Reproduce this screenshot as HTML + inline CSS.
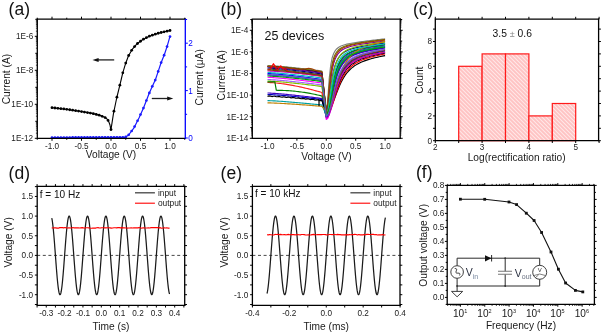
<!DOCTYPE html>
<html><head><meta charset="utf-8"><style>
html,body{margin:0;padding:0;background:#fff;}
svg{display:block;font-family:"Liberation Sans",sans-serif;will-change:transform;}
</style></head><body>
<svg width="602" height="333" viewBox="0 0 602 333">
<rect width="602" height="333" fill="#fff"/>
<text x="8.6" y="14.7" font-size="17.5" text-anchor="start" fill="#111" >(a)</text>
<text x="220.6" y="14.6" font-size="17.5" text-anchor="start" fill="#111" >(b)</text>
<text x="413" y="14.6" font-size="17.5" text-anchor="start" fill="#111" >(c)</text>
<text x="8.6" y="178.7" font-size="17.5" text-anchor="start" fill="#111" >(d)</text>
<text x="220.6" y="178.7" font-size="17.5" text-anchor="start" fill="#111" >(e)</text>
<text x="416" y="178.4" font-size="17.5" text-anchor="start" fill="#111" >(f)</text>
<polyline points="51.3,107.6 66,109.2 81,111.5 92,113.4 99,115.1 104,117 106.3,118.2 108.5,121 110,125 110.9,130.2 113.5,113.3 116.7,98 119.8,85.4 121.2,79.5 122.7,73.2 125.7,63.2 128.4,56 132,49.7 136.5,44.3 142.8,39.5 150,35.9 159,33 169.9,30.5" fill="none" stroke="#000" stroke-width="1.1" stroke-linejoin="round" />
<circle cx="52" cy="107.68" r="1.4" fill="#000"/>
<circle cx="54.95" cy="108" r="1.4" fill="#000"/>
<circle cx="57.9" cy="108.32" r="1.4" fill="#000"/>
<circle cx="60.85" cy="108.64" r="1.4" fill="#000"/>
<circle cx="63.8" cy="108.96" r="1.4" fill="#000"/>
<circle cx="66.75" cy="109.31" r="1.4" fill="#000"/>
<circle cx="69.7" cy="109.77" r="1.4" fill="#000"/>
<circle cx="72.65" cy="110.22" r="1.4" fill="#000"/>
<circle cx="75.6" cy="110.67" r="1.4" fill="#000"/>
<circle cx="78.55" cy="111.12" r="1.4" fill="#000"/>
<circle cx="81.5" cy="111.59" r="1.4" fill="#000"/>
<circle cx="84.45" cy="112.1" r="1.4" fill="#000"/>
<circle cx="87.4" cy="112.61" r="1.4" fill="#000"/>
<circle cx="90.35" cy="113.12" r="1.4" fill="#000"/>
<circle cx="93.3" cy="113.72" r="1.4" fill="#000"/>
<circle cx="96.25" cy="114.43" r="1.4" fill="#000"/>
<circle cx="99.2" cy="115.18" r="1.4" fill="#000"/>
<circle cx="102.15" cy="116.3" r="1.4" fill="#000"/>
<circle cx="105.1" cy="117.57" r="1.4" fill="#000"/>
<circle cx="108.05" cy="120.43" r="1.4" fill="#000"/>
<circle cx="111" cy="129.55" r="1.4" fill="#000"/>
<circle cx="113.95" cy="111.15" r="1.4" fill="#000"/>
<circle cx="116.9" cy="97.19" r="1.4" fill="#000"/>
<circle cx="119.85" cy="85.19" r="1.4" fill="#000"/>
<circle cx="122.8" cy="72.87" r="1.4" fill="#000"/>
<circle cx="125.75" cy="63.07" r="1.4" fill="#000"/>
<circle cx="128.7" cy="55.48" r="1.4" fill="#000"/>
<circle cx="131.65" cy="50.31" r="1.4" fill="#000"/>
<circle cx="134.6" cy="46.58" r="1.4" fill="#000"/>
<circle cx="137.55" cy="43.5" r="1.4" fill="#000"/>
<circle cx="140.5" cy="41.25" r="1.4" fill="#000"/>
<circle cx="143.45" cy="39.18" r="1.4" fill="#000"/>
<circle cx="146.4" cy="37.7" r="1.4" fill="#000"/>
<circle cx="149.35" cy="36.22" r="1.4" fill="#000"/>
<circle cx="152.3" cy="35.16" r="1.4" fill="#000"/>
<circle cx="155.25" cy="34.21" r="1.4" fill="#000"/>
<circle cx="158.2" cy="33.26" r="1.4" fill="#000"/>
<circle cx="161.15" cy="32.51" r="1.4" fill="#000"/>
<circle cx="164.1" cy="31.83" r="1.4" fill="#000"/>
<circle cx="167.05" cy="31.15" r="1.4" fill="#000"/>
<circle cx="170" cy="30.5" r="1.4" fill="#000"/>
<polyline points="52,137.5 125,137.4 128.6,135 133.8,128.2 139.2,117.5 143.7,107.5 149.1,93.5 152.7,85.4 155.5,79.5 158.2,71.4 160.9,63.2 164.5,54.2 167.2,46.1 169.9,36.6" fill="none" stroke="#1a1aff" stroke-width="1.2" stroke-linejoin="round" />
<circle cx="52" cy="137.5" r="1.35" fill="#1a1aff"/>
<circle cx="54.95" cy="137.5" r="1.35" fill="#1a1aff"/>
<circle cx="57.9" cy="137.49" r="1.35" fill="#1a1aff"/>
<circle cx="60.85" cy="137.49" r="1.35" fill="#1a1aff"/>
<circle cx="63.8" cy="137.48" r="1.35" fill="#1a1aff"/>
<circle cx="66.75" cy="137.48" r="1.35" fill="#1a1aff"/>
<circle cx="69.7" cy="137.48" r="1.35" fill="#1a1aff"/>
<circle cx="72.65" cy="137.47" r="1.35" fill="#1a1aff"/>
<circle cx="75.6" cy="137.47" r="1.35" fill="#1a1aff"/>
<circle cx="78.55" cy="137.46" r="1.35" fill="#1a1aff"/>
<circle cx="81.5" cy="137.46" r="1.35" fill="#1a1aff"/>
<circle cx="84.45" cy="137.46" r="1.35" fill="#1a1aff"/>
<circle cx="87.4" cy="137.45" r="1.35" fill="#1a1aff"/>
<circle cx="90.35" cy="137.45" r="1.35" fill="#1a1aff"/>
<circle cx="93.3" cy="137.44" r="1.35" fill="#1a1aff"/>
<circle cx="96.25" cy="137.44" r="1.35" fill="#1a1aff"/>
<circle cx="99.2" cy="137.44" r="1.35" fill="#1a1aff"/>
<circle cx="102.15" cy="137.43" r="1.35" fill="#1a1aff"/>
<circle cx="105.1" cy="137.43" r="1.35" fill="#1a1aff"/>
<circle cx="108.05" cy="137.42" r="1.35" fill="#1a1aff"/>
<circle cx="111" cy="137.42" r="1.35" fill="#1a1aff"/>
<circle cx="113.95" cy="137.42" r="1.35" fill="#1a1aff"/>
<circle cx="116.9" cy="137.41" r="1.35" fill="#1a1aff"/>
<circle cx="119.85" cy="137.41" r="1.35" fill="#1a1aff"/>
<circle cx="122.8" cy="137.4" r="1.35" fill="#1a1aff"/>
<circle cx="125.75" cy="136.9" r="1.35" fill="#1a1aff"/>
<circle cx="128.7" cy="134.87" r="1.35" fill="#1a1aff"/>
<circle cx="131.65" cy="131.01" r="1.35" fill="#1a1aff"/>
<circle cx="134.6" cy="126.61" r="1.35" fill="#1a1aff"/>
<circle cx="137.55" cy="120.77" r="1.35" fill="#1a1aff"/>
<circle cx="140.5" cy="114.61" r="1.35" fill="#1a1aff"/>
<circle cx="143.45" cy="108.06" r="1.35" fill="#1a1aff"/>
<circle cx="146.4" cy="100.5" r="1.35" fill="#1a1aff"/>
<circle cx="149.35" cy="92.94" r="1.35" fill="#1a1aff"/>
<circle cx="152.3" cy="86.3" r="1.35" fill="#1a1aff"/>
<circle cx="155.25" cy="80.03" r="1.35" fill="#1a1aff"/>
<circle cx="158.2" cy="71.4" r="1.35" fill="#1a1aff"/>
<circle cx="161.15" cy="62.58" r="1.35" fill="#1a1aff"/>
<circle cx="164.1" cy="55.2" r="1.35" fill="#1a1aff"/>
<circle cx="167.05" cy="46.55" r="1.35" fill="#1a1aff"/>
<circle cx="170" cy="36.6" r="1.35" fill="#1a1aff"/>
<line x1="97" y1="59.9" x2="114.2" y2="59.9" stroke="#222" stroke-width="1.3" />
<path d="M92.5,59.9 L98.6,57.9 L98.6,61.9 Z" fill="#111"/>
<line x1="151.8" y1="98.5" x2="168.5" y2="98.5" stroke="#222" stroke-width="1.3" />
<path d="M173.3,98.5 L167.2,96.5 L167.2,100.5 Z" fill="#111"/>
<path d="M185.3,19.1 H37.3 V138.4 H185.3" fill="none" stroke="#000" stroke-width="1.3" stroke-linecap="square"/>
<line x1="185.3" y1="19.1" x2="185.3" y2="138.4" stroke="#0000ff" stroke-width="1.3" stroke-linecap="square"/>
<path d="M52,138.4 v2.4 M81.5,138.4 v2.4 M111,138.4 v2.4 M140.5,138.4 v2.4 M170,138.4 v2.4" stroke="#000" stroke-width="1"/>
<path d="M52,19.1 v-2.4 M81.5,19.1 v-2.4 M111,19.1 v-2.4 M140.5,19.1 v-2.4 M170,19.1 v-2.4" stroke="#000" stroke-width="1"/>
<path d="M37.25,138.4 v1.4 M66.75,138.4 v1.4 M96.25,138.4 v1.4 M125.75,138.4 v1.4 M155.25,138.4 v1.4 M184.75,138.4 v1.4" stroke="#000" stroke-width="1"/>
<path d="M37.25,19.1 v-1.4 M66.75,19.1 v-1.4 M96.25,19.1 v-1.4 M125.75,19.1 v-1.4 M155.25,19.1 v-1.4 M184.75,19.1 v-1.4" stroke="#000" stroke-width="1"/>
<text x="52" y="148.9" font-size="8.2" text-anchor="middle" fill="#1a1a1a" >-1.0</text>
<text x="81.5" y="148.9" font-size="8.2" text-anchor="middle" fill="#1a1a1a" >-0.5</text>
<text x="111" y="148.9" font-size="8.2" text-anchor="middle" fill="#1a1a1a" >0.0</text>
<text x="140.5" y="148.9" font-size="8.2" text-anchor="middle" fill="#1a1a1a" >0.5</text>
<text x="170" y="148.9" font-size="8.2" text-anchor="middle" fill="#1a1a1a" >1.0</text>
<text x="111" y="158" font-size="10.2" text-anchor="middle" fill="#1a1a1a" >Voltage (V)</text>
<path d="M37.3,36.3 h-2.5 M37.3,70.3 h-2.5 M37.3,104.3 h-2.5 M37.3,138.3 h-2.5" stroke="#000" stroke-width="1"/>
<path d="M37.3,133.18 h-1.4 M37.3,130.19 h-1.4 M37.3,128.06 h-1.4 M37.3,126.42 h-1.4 M37.3,125.07 h-1.4 M37.3,123.93 h-1.4 M37.3,122.95 h-1.4 M37.3,122.08 h-1.4 M37.3,116.18 h-1.4 M37.3,113.19 h-1.4 M37.3,111.06 h-1.4 M37.3,109.42 h-1.4 M37.3,108.07 h-1.4 M37.3,106.93 h-1.4 M37.3,105.95 h-1.4 M37.3,105.08 h-1.4 M37.3,99.18 h-1.4 M37.3,96.19 h-1.4 M37.3,94.06 h-1.4 M37.3,92.42 h-1.4 M37.3,91.07 h-1.4 M37.3,89.93 h-1.4 M37.3,88.95 h-1.4 M37.3,88.08 h-1.4 M37.3,82.18 h-1.4 M37.3,79.19 h-1.4 M37.3,77.06 h-1.4 M37.3,75.42 h-1.4 M37.3,74.07 h-1.4 M37.3,72.93 h-1.4 M37.3,71.95 h-1.4 M37.3,71.08 h-1.4 M37.3,65.18 h-1.4 M37.3,62.19 h-1.4 M37.3,60.06 h-1.4 M37.3,58.42 h-1.4 M37.3,57.07 h-1.4 M37.3,55.93 h-1.4 M37.3,54.95 h-1.4 M37.3,54.08 h-1.4 M37.3,48.18 h-1.4 M37.3,45.19 h-1.4 M37.3,43.06 h-1.4 M37.3,41.42 h-1.4 M37.3,40.07 h-1.4 M37.3,38.93 h-1.4 M37.3,37.95 h-1.4 M37.3,37.08 h-1.4 M37.3,31.18 h-1.4 M37.3,28.19 h-1.4 M37.3,26.06 h-1.4 M37.3,24.42 h-1.4 M37.3,23.07 h-1.4 M37.3,21.93 h-1.4 M37.3,20.95 h-1.4 M37.3,20.08 h-1.4" stroke="#000" stroke-width="0.7"/>
<path d="M37.3,19.3 h-2 M37.3,53.3 h-2 M37.3,87.3 h-2 M37.3,121.3 h-2" stroke="#000" stroke-width="1"/>
<text x="33.2" y="38.8" font-size="8.2" text-anchor="end" fill="#1a1a1a" >1E-6</text>
<text x="33.2" y="72.8" font-size="8.2" text-anchor="end" fill="#1a1a1a" >1E-8</text>
<text x="33.2" y="106.8" font-size="8.2" text-anchor="end" fill="#1a1a1a" >1E-10</text>
<text x="33.2" y="140.8" font-size="8.2" text-anchor="end" fill="#1a1a1a" >1E-12</text>
<text x="0" y="0" font-size="10.2" text-anchor="middle" fill="#1a1a1a" transform="translate(9.7,79.1) rotate(-90)">Current (A)</text>
<path d="M185.3,138 h2.5 M185.3,90.6 h2.5 M185.3,43.2 h2.5" stroke="#0000ff" stroke-width="1"/>
<path d="M185.3,114.3 h1.8 M185.3,66.9 h1.8 M185.3,19.5 h1.8" stroke="#0000ff" stroke-width="1"/>
<text x="188.3" y="140.9" font-size="8.2" text-anchor="start" fill="#0000ff" >0</text>
<text x="188.3" y="93.5" font-size="8.2" text-anchor="start" fill="#0000ff" >1</text>
<text x="188.3" y="46.1" font-size="8.2" text-anchor="start" fill="#0000ff" >2</text>
<text x="0" y="0" font-size="10.2" text-anchor="middle" fill="#1a1a1a" transform="translate(202.5,77.3) rotate(-90)">Current (&#956;A)</text>
<clipPath id="cb"><rect x="252.3" y="19.1" width="147.9" height="119.2"/></clipPath>
<polyline points="267.5,65.5 268.97,65.55 270.44,65.62 271.91,65.71 273.38,65.81 274.85,65.91 276.32,66.02 277.79,66.13 279.26,66.25 280.73,66.38 282.2,66.5 283.67,66.64 285.14,66.77 286.61,66.91 288.08,67.05 289.55,67.2 291.02,67.35 292.49,67.5 293.96,67.66 295.43,67.81 296.9,67.97 298.37,68.13 299.84,68.3 301.31,68.46 302.78,68.63 304.25,68.8 305.72,68.98 307.19,69.15 308.66,69.33 310.13,69.51 311.6,69.69 313.07,69.87 314.54,70.05 316.01,70.24 317.48,70.43 318.95,70.62 320.42,70.81 321.89,71 326.3,113 327.77,98.96 329.24,78.19 330.71,65.05 332.18,57.7 333.65,53.43 335.12,50.76 336.59,48.98 338.06,47.72 339.53,46.78 341,46.05 342.47,45.46 343.94,44.97 345.41,44.55 346.88,44.18 348.35,43.85 349.82,43.55 351.29,43.28 352.76,43.02 354.23,42.77 355.7,42.54 357.17,42.32 358.64,42.1 360.11,41.9 361.58,41.69 363.05,41.49 364.52,41.3 365.99,41.11 367.46,40.92 368.93,40.74 370.4,40.55 371.87,40.37 373.34,40.19 374.81,40.02 376.28,39.84 377.75,39.66 379.22,39.49 380.69,39.32 382.16,39.14 383.63,38.97 385.1,38.8" fill="none" stroke="#808080" stroke-width="1.15" stroke-linejoin="round" clip-path="url(#cb)"/>
<polyline points="267.5,66 268.97,66.05 270.44,66.12 271.91,66.21 273.38,66.31 274.85,66.41 276.32,66.52 277.79,66.63 279.26,66.75 280.73,66.88 282.2,67 283.67,67.14 285.14,67.27 286.61,67.41 288.08,67.55 289.55,67.7 291.02,67.85 292.49,68 293.96,68.16 295.43,68.31 296.9,68.47 298.37,68.63 299.84,68.8 301.31,68.96 302.78,69.13 304.25,69.3 305.72,69.48 307.19,69.65 308.66,69.83 310.13,70.01 311.6,70.19 313.07,70.37 314.54,70.55 316.01,70.74 317.48,70.93 318.95,71.12 320.42,71.31 321.89,71.5 326.3,112 327.77,102.78 329.24,85.77 330.71,72.28 332.18,63.56 333.65,58.06 335.12,54.47 336.59,52.02 338.06,50.27 339.53,48.98 341,47.98 342.47,47.18 343.94,46.52 345.41,45.97 346.88,45.5 348.35,45.08 349.82,44.71 351.29,44.38 352.76,44.07 354.23,43.78 355.7,43.51 357.17,43.25 358.64,43.01 360.11,42.78 361.58,42.55 363.05,42.34 364.52,42.12 365.99,41.92 367.46,41.72 368.93,41.52 370.4,41.32 371.87,41.13 373.34,40.94 374.81,40.76 376.28,40.57 377.75,40.39 379.22,40.21 380.69,40.03 382.16,39.85 383.63,39.68 385.1,39.5" fill="none" stroke="#707000" stroke-width="1.15" stroke-linejoin="round" clip-path="url(#cb)"/>
<polyline points="267.5,66.5 268.97,66.55 270.44,66.64 271.91,66.73 273.38,66.83 274.85,66.94 276.32,67.06 277.79,67.19 279.26,67.32 280.73,67.46 282.2,67.6 283.67,67.74 285.14,67.89 286.61,68.04 288.08,68.2 289.55,68.36 291.02,68.52 292.49,68.68 293.96,68.85 295.43,69.02 296.9,69.2 298.37,69.37 299.84,69.55 301.31,69.73 302.78,69.92 304.25,70.1 305.72,70.29 307.19,70.48 308.66,70.68 310.13,70.87 311.6,71.07 313.07,71.27 314.54,71.47 316.01,71.67 317.48,71.88 318.95,72.08 320.42,72.29 321.89,72.5 326.3,112 327.77,111.6 329.24,110.21 330.71,107.83 332.18,104.63 333.65,100.91 335.12,96.95 336.59,92.99 338.06,89.21 339.53,85.71 341,82.53 342.47,79.69 343.94,77.17 345.41,74.95 346.88,72.99 348.35,71.26 349.82,69.73 351.29,68.37 352.76,67.17 354.23,66.09 355.7,65.12 357.17,64.24 358.64,63.44 360.11,62.72 361.58,62.05 363.05,61.44 364.52,60.88 365.99,60.35 367.46,59.86 368.93,59.4 370.4,58.96 371.87,58.55 373.34,58.17 374.81,57.8 376.28,57.45 377.75,57.11 379.22,56.78 380.69,56.47 382.16,56.17 383.63,55.88 385.1,55.6" fill="none" stroke="#000000" stroke-width="1.15" stroke-linejoin="round" clip-path="url(#cb)"/>
<polyline points="267.5,67 268.97,67.05 270.44,67.14 271.91,67.23 273.38,67.33 274.85,67.44 276.32,67.56 277.79,67.69 279.26,67.82 280.73,67.96 282.2,68.1 283.67,68.24 285.14,68.39 286.61,68.54 288.08,68.7 289.55,68.86 291.02,69.02 292.49,69.18 293.96,69.35 295.43,69.52 296.9,69.7 298.37,69.87 299.84,70.05 301.31,70.23 302.78,70.42 304.25,70.6 305.72,70.79 307.19,70.98 308.66,71.18 310.13,71.37 311.6,71.57 313.07,71.77 314.54,71.97 316.01,72.17 317.48,72.38 318.95,72.58 320.42,72.79 321.89,73 326.3,114 327.77,107.3 329.24,93.05 330.71,79.8 332.18,70.18 333.65,63.64 335.12,59.18 336.59,56.07 338.06,53.81 339.53,52.13 341,50.83 342.47,49.81 343.94,48.97 345.41,48.28 346.88,47.69 348.35,47.17 349.82,46.72 351.29,46.32 352.76,45.95 354.23,45.62 355.7,45.3 357.17,45.01 358.64,44.74 360.11,44.48 361.58,44.23 363.05,43.99 364.52,43.76 365.99,43.54 367.46,43.32 368.93,43.11 370.4,42.9 371.87,42.7 373.34,42.5 374.81,42.31 376.28,42.11 377.75,41.92 379.22,41.73 380.69,41.55 382.16,41.36 383.63,41.18 385.1,41" fill="none" stroke="#8000a0" stroke-width="1.15" stroke-linejoin="round" clip-path="url(#cb)"/>
<polyline points="267.5,66.5 268.97,66.55 270.44,66.62 271.91,66.71 273.38,66.81 274.85,66.91 276.32,67.02 277.79,67.13 279.26,67.25 280.73,67.38 282.2,67.5 283.67,67.64 285.14,67.77 286.61,67.91 288.08,68.05 289.55,68.2 291.02,68.35 292.49,68.5 293.96,68.65 295.43,68.81 296.9,68.95 298.37,69.09 299.84,69.18 301.31,69.22 302.78,69.16 304.25,69.01 305.72,68.77 307.19,68.55 308.66,68.43 310.13,68.51 311.6,68.82 313.07,69.33 314.54,69.93 316.01,70.51 317.48,71 318.95,71.4 320.42,71.71 321.89,71.96 326.3,111 327.77,103.75 329.24,89.04 330.71,76.04 332.18,66.93 333.65,60.88 335.12,56.82 336.59,53.99 338.06,51.96 339.53,50.44 341,49.27 342.47,48.34 343.94,47.58 345.41,46.95 346.88,46.41 348.35,45.93 349.82,45.52 351.29,45.14 352.76,44.8 354.23,44.48 355.7,44.19 357.17,43.91 358.64,43.65 360.11,43.4 361.58,43.16 363.05,42.93 364.52,42.71 365.99,42.49 367.46,42.28 368.93,42.07 370.4,41.87 371.87,41.67 373.34,41.48 374.81,41.29 376.28,41.1 377.75,40.91 379.22,40.73 380.69,40.54 382.16,40.36 383.63,40.18 385.1,40" fill="none" stroke="#a04000" stroke-width="1.15" stroke-linejoin="round" clip-path="url(#cb)"/>
<polyline points="267.5,68 268.97,68.05 270.44,68.14 271.91,68.23 273.38,68.33 274.85,68.44 276.32,68.56 277.79,68.69 279.26,68.82 280.73,68.96 282.2,69.1 283.67,69.24 285.14,69.39 286.61,69.54 288.08,69.7 289.55,69.86 291.02,70.02 292.49,70.18 293.96,70.35 295.43,70.52 296.9,70.7 298.37,70.87 299.84,71.05 301.31,71.23 302.78,71.42 304.25,71.6 305.72,71.79 307.19,71.98 308.66,72.18 310.13,72.37 311.6,72.57 313.07,72.77 314.54,72.97 316.01,73.17 317.48,73.38 318.95,73.58 320.42,73.79 321.89,74 326.3,114 327.77,109.68 329.24,99.15 330.71,87.58 332.18,77.92 333.65,70.65 335.12,65.36 336.59,61.5 338.06,58.64 339.53,56.46 341,54.78 342.47,53.44 343.94,52.35 345.41,51.45 346.88,50.69 348.35,50.04 349.82,49.47 351.29,48.97 352.76,48.52 354.23,48.12 355.7,47.74 357.17,47.4 358.64,47.08 360.11,46.78 361.58,46.49 363.05,46.22 364.52,45.96 365.99,45.72 367.46,45.48 368.93,45.25 370.4,45.02 371.87,44.8 373.34,44.59 374.81,44.38 376.28,44.17 377.75,43.97 379.22,43.77 380.69,43.57 382.16,43.38 383.63,43.19 385.1,43" fill="none" stroke="#000080" stroke-width="1.15" stroke-linejoin="round" clip-path="url(#cb)"/>
<polyline points="267.5,69 268.97,69.05 270.44,69.14 271.91,69.23 273.38,69.33 274.85,69.44 276.32,69.56 277.79,69.69 279.26,69.82 280.73,69.96 282.2,70.1 283.67,70.24 285.14,70.39 286.61,70.54 288.08,70.7 289.55,70.86 291.02,71.02 292.49,71.18 293.96,71.35 295.43,71.52 296.9,71.7 298.37,71.87 299.84,72.05 301.31,72.23 302.78,72.42 304.25,72.6 305.72,72.79 307.19,72.98 308.66,73.18 310.13,73.37 311.6,73.57 313.07,73.77 314.54,73.97 316.01,74.17 317.48,74.38 318.95,74.58 320.42,74.79 321.89,75 326.3,115 327.77,112.92 329.24,106.99 330.71,98.96 332.18,90.71 333.65,83.33 335.12,77.18 336.59,72.24 338.06,68.3 339.53,65.16 341,62.64 342.47,60.6 343.94,58.93 345.41,57.53 346.88,56.36 348.35,55.36 349.82,54.49 351.29,53.74 352.76,53.07 354.23,52.48 355.7,51.94 357.17,51.46 358.64,51.01 360.11,50.6 361.58,50.22 363.05,49.86 364.52,49.53 365.99,49.21 367.46,48.91 368.93,48.62 370.4,48.34 371.87,48.08 373.34,47.82 374.81,47.57 376.28,47.33 377.75,47.1 379.22,46.87 380.69,46.65 382.16,46.43 383.63,46.21 385.1,46" fill="none" stroke="#404040" stroke-width="1.15" stroke-linejoin="round" clip-path="url(#cb)"/>
<polyline points="267.5,69.8 268.97,69.77 270.44,69.01 271.91,66.2 273.38,63.69 274.85,65.83 276.32,69.04 277.79,69.33 279.26,67.07 280.73,65.89 282.2,67.92 283.67,68.95 285.14,68.8 286.61,70.21 288.08,71.46 289.55,71.86 291.02,72.05 292.49,72.24 293.96,72.43 295.43,72.62 296.9,72.81 298.37,73.01 299.84,73.21 301.31,73.41 302.78,73.62 304.25,73.82 305.72,74.04 307.19,74.25 308.66,74.46 310.13,74.68 311.6,74.9 313.07,75.12 314.54,75.35 316.01,75.57 317.48,75.8 318.95,76.03 320.42,76.27 321.89,76.5 326.3,115 327.77,114.47 329.24,112.67 330.71,109.66 332.18,105.73 333.65,101.28 335.12,96.66 336.59,92.17 338.06,87.99 339.53,84.2 341,80.83 342.47,77.86 343.94,75.27 345.41,73 346.88,71.03 348.35,69.3 349.82,67.78 351.29,66.44 352.76,65.26 354.23,64.2 355.7,63.25 357.17,62.4 358.64,61.62 360.11,60.92 361.58,60.27 363.05,59.68 364.52,59.13 365.99,58.62 367.46,58.14 368.93,57.7 370.4,57.28 371.87,56.88 373.34,56.5 374.81,56.14 376.28,55.8 377.75,55.47 379.22,55.16 380.69,54.85 382.16,54.56 383.63,54.28 385.1,54" fill="none" stroke="#ff0000" stroke-width="1.15" stroke-linejoin="round" clip-path="url(#cb)"/>
<polyline points="267.5,73.5 268.97,73.55 270.44,73.64 271.91,73.73 273.38,73.83 274.85,73.94 276.32,74.06 277.79,74.19 279.26,74.32 280.73,74.46 282.2,74.6 283.67,74.74 285.14,74.89 286.61,75.04 288.08,75.2 289.55,75.36 291.02,75.52 292.49,75.68 293.96,75.85 295.43,76.02 296.9,76.2 298.37,76.37 299.84,76.55 301.31,76.73 302.78,76.92 304.25,77.1 305.72,77.29 307.19,77.48 308.66,77.68 310.13,77.87 311.6,78.07 313.07,78.27 314.54,78.47 316.01,78.67 317.48,78.88 318.95,79.08 320.42,79.29 321.89,79.5 326.3,116 327.77,114.33 329.24,109.36 330.71,102.31 332.18,94.67 333.65,87.52 335.12,81.33 336.59,76.18 338.06,71.99 339.53,68.59 341,65.83 342.47,63.57 343.94,61.7 345.41,60.14 346.88,58.83 348.35,57.7 349.82,56.73 351.29,55.89 352.76,55.14 354.23,54.48 355.7,53.89 357.17,53.35 358.64,52.86 360.11,52.41 361.58,51.99 363.05,51.6 364.52,51.23 365.99,50.89 367.46,50.57 368.93,50.26 370.4,49.96 371.87,49.68 373.34,49.41 374.81,49.15 376.28,48.89 377.75,48.65 379.22,48.41 380.69,48.17 382.16,47.94 383.63,47.72 385.1,47.5" fill="none" stroke="#0000ff" stroke-width="1.15" stroke-linejoin="round" clip-path="url(#cb)"/>
<polyline points="267.5,75 268.97,75.05 270.44,75.12 271.91,75.21 273.38,75.31 274.85,75.41 276.32,75.52 277.79,75.63 279.26,75.75 280.73,75.88 282.2,76 283.67,76.14 285.14,76.27 286.61,76.41 288.08,76.55 289.55,76.7 291.02,76.85 292.49,77 293.96,77.16 295.43,77.31 296.9,77.47 298.37,77.63 299.84,77.8 301.31,77.96 302.78,78.13 304.25,78.3 305.72,78.48 307.19,78.65 308.66,78.83 310.13,79.01 311.6,79.19 313.07,79.37 314.54,79.55 316.01,79.74 317.48,79.93 318.95,80.12 320.42,80.31 321.89,80.5 326.3,116 327.77,113.56 329.24,106.78 330.71,97.9 332.18,89.08 333.65,81.43 335.12,75.21 336.59,70.29 338.06,66.43 339.53,63.39 341,60.97 342.47,59.01 343.94,57.41 345.41,56.09 346.88,54.97 348.35,54.02 349.82,53.2 351.29,52.48 352.76,51.84 354.23,51.28 355.7,50.76 357.17,50.3 358.64,49.87 360.11,49.48 361.58,49.11 363.05,48.77 364.52,48.44 365.99,48.14 367.46,47.84 368.93,47.56 370.4,47.3 371.87,47.04 373.34,46.79 374.81,46.54 376.28,46.31 377.75,46.08 379.22,45.85 380.69,45.63 382.16,45.42 383.63,45.21 385.1,45" fill="none" stroke="#2020e0" stroke-width="1.15" stroke-linejoin="round" clip-path="url(#cb)"/>
<polyline points="267.5,77.3 268.97,77.35 270.44,77.43 271.91,77.52 273.38,77.62 274.85,77.72 276.32,77.84 277.79,77.95 279.26,78.08 280.73,78.21 282.2,78.34 283.67,78.48 285.14,78.62 286.61,78.76 288.08,78.91 289.55,79.06 291.02,79.22 292.49,79.37 293.96,79.53 295.43,79.7 296.9,79.86 298.37,80.03 299.84,80.2 301.31,80.37 302.78,80.55 304.25,80.72 305.72,80.9 307.19,81.08 308.66,81.27 310.13,81.45 311.6,81.64 313.07,81.83 314.54,82.02 316.01,82.21 317.48,82.41 318.95,82.6 320.42,82.8 321.89,83 326.3,119.5 327.77,118.3 329.24,114.54 330.71,108.81 332.18,102.13 333.65,95.39 335.12,89.18 336.59,83.73 338.06,79.1 339.53,75.21 341,71.97 342.47,69.27 343.94,67.01 345.41,65.1 346.88,63.48 348.35,62.09 349.82,60.9 351.29,59.85 352.76,58.93 354.23,58.12 355.7,57.39 357.17,56.73 358.64,56.14 360.11,55.6 361.58,55.1 363.05,54.64 364.52,54.21 365.99,53.81 367.46,53.43 368.93,53.07 370.4,52.74 371.87,52.41 373.34,52.11 374.81,51.81 376.28,51.53 377.75,51.25 379.22,50.99 380.69,50.73 382.16,50.48 383.63,50.24 385.1,50" fill="none" stroke="#ff00ff" stroke-width="1.15" stroke-linejoin="round" clip-path="url(#cb)"/>
<polyline points="267.5,79.5 268.97,79.55 270.44,79.62 271.91,79.71 273.38,79.81 274.85,79.91 276.32,80.02 277.79,80.13 279.26,80.25 280.73,80.38 282.2,80.5 283.67,80.64 285.14,80.77 286.61,80.91 288.08,81.05 289.55,81.2 291.02,81.35 292.49,81.5 293.96,81.66 295.43,81.81 296.9,81.97 298.37,82.13 299.84,82.3 301.31,82.46 302.78,82.63 304.25,82.8 305.72,82.98 307.19,83.15 308.66,83.33 310.13,83.51 311.6,83.69 313.07,83.87 314.54,84.05 316.01,84.24 317.48,84.43 318.95,84.62 320.42,84.81 321.89,85 326.3,117 327.77,115.74 329.24,111.85 330.71,106.02 332.18,99.31 333.65,92.64 335.12,86.55 336.59,81.27 338.06,76.81 339.53,73.08 341,69.99 342.47,67.42 343.94,65.28 345.41,63.47 346.88,61.93 348.35,60.61 349.82,59.47 351.29,58.48 352.76,57.61 354.23,56.83 355.7,56.14 357.17,55.52 358.64,54.95 360.11,54.43 361.58,53.95 363.05,53.51 364.52,53.09 365.99,52.71 367.46,52.34 368.93,52 370.4,51.67 371.87,51.36 373.34,51.06 374.81,50.77 376.28,50.5 377.75,50.23 379.22,49.97 380.69,49.72 382.16,49.47 383.63,49.23 385.1,49" fill="none" stroke="#a060ff" stroke-width="1.15" stroke-linejoin="round" clip-path="url(#cb)"/>
<polyline points="267.5,81 268.97,81.05 270.44,81.12 271.91,81.21 273.38,81.31 274.85,81.41 276.32,81.52 277.79,81.63 279.26,81.75 280.73,81.88 282.2,82 283.67,82.14 285.14,82.27 286.61,82.41 288.08,82.55 289.55,82.7 291.02,82.85 292.49,83 293.96,83.16 295.43,83.31 296.9,83.47 298.37,83.63 299.84,83.8 301.31,83.96 302.78,84.13 304.25,84.3 305.72,84.48 307.19,84.65 308.66,84.83 310.13,85.01 311.6,85.19 313.07,85.37 314.54,85.55 316.01,85.74 317.48,85.93 318.95,86.12 320.42,86.31 321.89,86.5 326.3,116 327.77,111.61 329.24,100.92 330.71,89.06 332.18,79.03 333.65,71.41 335.12,65.81 336.59,61.69 338.06,58.62 339.53,56.28 341,54.46 342.47,53.02 343.94,51.84 345.41,50.87 346.88,50.06 348.35,49.36 349.82,48.75 351.29,48.21 352.76,47.73 354.23,47.3 355.7,46.91 357.17,46.55 358.64,46.21 360.11,45.89 361.58,45.59 363.05,45.31 364.52,45.04 365.99,44.79 367.46,44.54 368.93,44.3 370.4,44.07 371.87,43.84 373.34,43.62 374.81,43.4 376.28,43.19 377.75,42.99 379.22,42.78 380.69,42.58 382.16,42.39 383.63,42.19 385.1,42" fill="none" stroke="#80c000" stroke-width="1.15" stroke-linejoin="round" clip-path="url(#cb)"/>
<polyline points="267.5,82.5 268.97,82.53 270.44,82.59 271.91,82.68 273.38,82.78 274.85,82.91 276.32,83.04 277.79,83.2 279.26,83.36 280.73,83.54 282.2,83.73 283.67,83.94 285.14,84.15 286.61,84.38 288.08,84.61 289.55,84.86 291.02,85.11 292.49,85.38 293.96,85.66 295.43,85.94 296.9,86.24 298.37,86.54 299.84,86.85 301.31,87.17 302.78,87.5 304.25,87.84 305.72,88.19 307.19,88.54 308.66,88.9 310.13,89.27 311.6,89.65 313.07,90.03 314.54,90.43 316.01,90.83 317.48,91.23 318.95,91.65 320.42,92.07 321.89,92.5 326.3,116 327.77,115.21 329.24,112.61 330.71,108.44 332.18,103.29 333.65,97.77 335.12,92.38 336.59,87.41 338.06,82.99 339.53,79.16 341,75.86 342.47,73.05 343.94,70.65 345.41,68.6 346.88,66.84 348.35,65.32 349.82,63.99 351.29,62.83 352.76,61.81 354.23,60.9 355.7,60.09 357.17,59.36 358.64,58.69 360.11,58.09 361.58,57.54 363.05,57.02 364.52,56.55 365.99,56.11 367.46,55.69 368.93,55.3 370.4,54.94 371.87,54.59 373.34,54.25 374.81,53.93 376.28,53.63 377.75,53.33 379.22,53.05 380.69,52.78 382.16,52.51 383.63,52.25 385.1,52" fill="none" stroke="#ff2020" stroke-width="1.15" stroke-linejoin="round" clip-path="url(#cb)"/>
<polyline points="267.5,81.8 268.97,81.8 270.44,81.8 271.91,81.8 273.38,81.8 274.85,81.8 276.32,90.3 277.79,90.31 279.26,90.32 280.73,90.35 282.2,90.39 283.67,90.45 285.14,90.51 286.61,90.59 288.08,90.68 289.55,90.78 291.02,90.89 292.49,91.02 293.96,91.15 295.43,91.3 296.9,91.46 298.37,91.63 299.84,91.82 301.31,92.01 302.78,92.22 304.25,92.44 305.72,92.67 307.19,92.92 308.66,93.17 310.13,93.44 311.6,93.72 313.07,94.01 314.54,94.31 316.01,94.62 317.48,94.95 318.95,95.29 320.42,95.64 321.89,96 326.3,116 327.77,113.3 329.24,105.95 330.71,96.56 332.18,87.46 333.65,79.74 335.12,73.58 336.59,68.78 338.06,65.04 339.53,62.12 341,59.8 342.47,57.94 343.94,56.41 345.41,55.15 346.88,54.09 348.35,53.19 349.82,52.41 351.29,51.73 352.76,51.12 354.23,50.58 355.7,50.09 357.17,49.65 358.64,49.24 360.11,48.86 361.58,48.51 363.05,48.18 364.52,47.86 365.99,47.57 367.46,47.28 368.93,47.01 370.4,46.75 371.87,46.5 373.34,46.25 374.81,46.02 376.28,45.79 377.75,45.56 379.22,45.34 380.69,45.12 382.16,44.91 383.63,44.7 385.1,44.5" fill="none" stroke="#008000" stroke-width="1.15" stroke-linejoin="round" clip-path="url(#cb)"/>
<polyline points="267.5,93 268.97,93.05 270.44,93.12 271.91,93.21 273.38,93.31 274.85,93.41 276.32,93.52 277.79,93.63 279.26,93.75 280.73,93.88 282.2,94 283.67,94.14 285.14,94.27 286.61,94.41 288.08,94.55 289.55,94.7 291.02,94.85 292.49,95 293.96,95.16 295.43,95.31 296.9,95.47 298.37,95.63 299.84,95.8 301.31,95.96 302.78,96.13 304.25,96.3 305.72,96.48 307.19,96.65 308.66,96.83 310.13,97.01 311.6,97.19 313.07,97.37 314.54,97.55 316.01,97.74 317.48,97.93 318.95,98.12 320.42,98.31 321.89,98.5 326.3,117 327.77,115.38 329.24,110.52 330.71,103.55 332.18,95.95 333.65,88.77 335.12,82.51 336.59,77.29 338.06,73.02 339.53,69.55 341,66.72 342.47,64.41 343.94,62.49 345.41,60.89 346.88,59.54 348.35,58.39 349.82,57.4 351.29,56.53 352.76,55.77 354.23,55.09 355.7,54.48 357.17,53.93 358.64,53.43 360.11,52.97 361.58,52.54 363.05,52.15 364.52,51.78 365.99,51.43 367.46,51.1 368.93,50.79 370.4,50.49 371.87,50.2 373.34,49.93 374.81,49.66 376.28,49.4 377.75,49.15 379.22,48.91 380.69,48.68 382.16,48.45 383.63,48.22 385.1,48" fill="none" stroke="#4000c0" stroke-width="1.15" stroke-linejoin="round" clip-path="url(#cb)"/>
<polyline points="267.5,94.5 268.97,94.55 270.44,94.61 271.91,94.69 273.38,94.78 274.85,94.87 276.32,94.97 277.79,95.07 279.26,95.18 280.73,95.3 282.2,95.41 283.67,95.53 285.14,95.66 286.61,95.78 288.08,95.91 289.55,96.05 291.02,96.18 292.49,96.32 293.96,96.46 295.43,96.6 296.9,96.75 298.37,96.89 299.84,97.04 301.31,97.19 302.78,97.35 304.25,97.5 305.72,97.66 307.19,97.82 308.66,97.98 310.13,98.14 311.6,98.31 313.07,98.47 314.54,98.64 316.01,98.81 317.48,98.98 318.95,99.15 320.42,99.33 321.89,99.5 326.3,117 327.77,116.09 329.24,113.16 330.71,108.53 332.18,102.92 333.65,97.01 335.12,91.34 336.59,86.18 338.06,81.66 339.53,77.78 341,74.47 342.47,71.67 343.94,69.29 345.41,67.27 346.88,65.53 348.35,64.04 349.82,62.74 351.29,61.6 352.76,60.6 354.23,59.72 355.7,58.92 357.17,58.21 358.64,57.56 360.11,56.97 361.58,56.43 363.05,55.93 364.52,55.47 365.99,55.04 367.46,54.63 368.93,54.25 370.4,53.89 371.87,53.55 373.34,53.22 374.81,52.91 376.28,52.6 377.75,52.32 379.22,52.04 380.69,51.77 382.16,51.5 383.63,51.25 385.1,51" fill="none" stroke="#0000c0" stroke-width="1.15" stroke-linejoin="round" clip-path="url(#cb)"/>
<polyline points="267.5,96.35 268.97,95.9 270.44,96.11 271.91,96.57 273.38,96.23 274.85,96.2 276.32,96.78 277.79,96.65 279.26,96.41 280.73,96.95 282.2,97.1 283.67,96.73 285.14,97.11 286.61,97.51 288.08,97.16 289.55,97.3 291.02,97.87 292.49,97.67 293.96,97.55 295.43,98.16 296.9,98.21 298.37,97.91 299.84,98.41 301.31,98.72 302.78,98.37 304.25,98.65 305.72,99.18 307.19,98.91 308.66,98.93 310.13,99.57 311.6,99.51 313.07,99.3 314.54,99.89 316.01,100.09 317.48,99.77 318.95,100.18 320.42,100.63 321.89,100.32 326.3,113.98 327.77,113.13 329.24,111.6 330.71,108.23 332.18,103.55 333.65,99.19 335.12,94.6 336.59,89.53 338.06,85.46 339.53,82.1 341,78.4 342.47,75.39 343.94,73.39 345.41,71.03 346.88,68.79 348.35,67.59 349.82,66.23 351.29,64.49 352.76,63.62 354.23,62.94 355.7,61.59 357.17,60.78 358.64,60.52 360.11,59.56 361.58,58.69 363.05,58.61 364.52,58.03 365.99,57.11 367.46,57.01 368.93,56.8 370.4,55.91 371.87,55.65 373.34,55.7 374.81,54.97 376.28,54.49 377.75,54.67 379.22,54.19 380.69,53.52 382.16,53.67 383.63,53.48 385.1,52.73" fill="none" stroke="#000000" stroke-width="1.15" stroke-linejoin="round" clip-path="url(#cb)"/>
<polyline points="267.5,100.6 268.97,100.64 270.44,100.7 271.91,100.77 273.38,100.84 274.85,100.93 276.32,101.01 277.79,101.11 279.26,101.2 280.73,101.3 282.2,101.4 283.67,101.51 285.14,101.62 286.61,101.73 288.08,101.84 289.55,101.96 291.02,102.08 292.49,102.2 293.96,102.32 295.43,102.45 296.9,102.58 298.37,102.71 299.84,102.84 301.31,102.97 302.78,103.11 304.25,103.24 305.72,103.38 307.19,103.52 308.66,103.66 310.13,103.81 311.6,103.95 313.07,104.1 314.54,104.24 316.01,104.39 317.48,104.54 318.95,104.69 320.42,104.85 321.89,105 326.3,115 327.77,113.02 329.24,107.31 330.71,99.5 332.18,91.4 333.65,84.09 335.12,77.96 336.59,73 338.06,69.04 339.53,65.87 341,63.33 342.47,61.26 343.94,59.56 345.41,58.15 346.88,56.96 348.35,55.95 349.82,55.07 351.29,54.31 352.76,53.63 354.23,53.03 355.7,52.49 357.17,52 358.64,51.55 360.11,51.13 361.58,50.75 363.05,50.39 364.52,50.05 365.99,49.73 367.46,49.42 368.93,49.13 370.4,48.86 371.87,48.59 373.34,48.33 374.81,48.08 376.28,47.84 377.75,47.6 379.22,47.37 380.69,47.15 382.16,46.93 383.63,46.71 385.1,46.5" fill="none" stroke="#00a0a0" stroke-width="1.15" stroke-linejoin="round" clip-path="url(#cb)"/>
<polyline points="267.5,102.9 268.97,102.9 270.44,102.92 271.91,102.97 273.38,103.03 274.85,103.09 276.32,103.15 277.79,103.22 279.26,103.3 280.73,103.38 282.2,103.46 283.67,103.54 285.14,103.63 286.61,103.71 288.08,103.81 289.55,103.9 291.02,103.99 292.49,104.09 293.96,104.19 295.43,104.29 296.9,104.39 298.37,104.5 299.84,104.6 301.31,104.71 302.78,104.82 304.25,104.93 305.72,105.04 307.19,105.15 308.66,105.27 310.13,105.38 311.6,105.5 313.07,105.62 314.54,105.74 316.01,105.86 317.48,105.98 318.95,106.1 320.42,106.22 321.89,106.35 326.3,111 327.77,111 329.24,110.28 330.71,107.5 332.18,103.1 333.65,97.74 335.12,92.05 336.59,86.48 338.06,81.31 339.53,76.65 341,72.55 342.47,68.98 343.94,65.88 345.41,63.2 346.88,60.88 348.35,58.85 349.82,57.09 351.29,55.54 352.76,54.17 354.23,52.95 355.7,51.86 357.17,50.89 358.64,50 360.11,49.2 361.58,48.47 363.05,47.8 364.52,47.18 365.99,46.61 367.46,46.07 368.93,45.57 370.4,45.1 371.87,44.66 373.34,44.24 374.81,43.85 376.28,43.47 377.75,43.11 379.22,42.76 380.69,42.43 382.16,42.11 383.63,41.8 385.1,41.5" fill="none" stroke="#c08000" stroke-width="1.15" stroke-linejoin="round" clip-path="url(#cb)"/>
<polyline points="267.5,71 268.97,71.05 270.44,71.11 271.91,71.19 273.38,71.28 274.85,71.37 276.32,71.47 277.79,71.57 279.26,71.68 280.73,71.8 282.2,71.91 283.67,72.03 285.14,72.16 286.61,72.28 288.08,72.41 289.55,72.55 291.02,72.68 292.49,72.82 293.96,72.96 295.43,73.1 296.9,73.25 298.37,73.39 299.84,73.54 301.31,73.69 302.78,73.85 304.25,74 305.72,74.16 307.19,74.32 308.66,74.48 310.13,74.64 311.6,74.81 313.07,74.97 314.54,75.14 316.01,75.31 317.48,75.48 318.95,75.65 320.42,75.83 321.89,76 326.3,118 327.77,117.21 329.24,114.62 330.71,110.43 332.18,105.23 333.65,99.62 335.12,94.12 336.59,89.03 338.06,84.49 339.53,80.53 341,77.13 342.47,74.22 343.94,71.74 345.41,69.61 346.88,67.78 348.35,66.2 349.82,64.83 351.29,63.63 352.76,62.57 354.23,61.63 355.7,60.79 357.17,60.03 358.64,59.35 360.11,58.73 361.58,58.16 363.05,57.63 364.52,57.14 365.99,56.69 367.46,56.27 368.93,55.87 370.4,55.49 371.87,55.13 373.34,54.79 374.81,54.47 376.28,54.15 377.75,53.85 379.22,53.57 380.69,53.29 382.16,53.02 383.63,52.76 385.1,52.5" fill="none" stroke="#c000c0" stroke-width="1.15" stroke-linejoin="round" clip-path="url(#cb)"/>
<polyline points="267.5,72.5 268.97,72.55 270.44,72.62 271.91,72.71 273.38,72.81 274.85,72.91 276.32,73.02 277.79,73.13 279.26,73.25 280.73,73.38 282.2,73.5 283.67,73.64 285.14,73.77 286.61,73.91 288.08,74.05 289.55,74.2 291.02,74.35 292.49,74.5 293.96,74.66 295.43,74.81 296.9,74.97 298.37,75.13 299.84,75.3 301.31,75.46 302.78,75.63 304.25,75.8 305.72,75.98 307.19,76.15 308.66,76.33 310.13,76.51 311.6,76.69 313.07,76.87 314.54,77.05 316.01,77.24 317.48,77.43 318.95,77.62 320.42,77.81 321.89,78 326.3,116 327.77,112.7 329.24,104.07 330.71,93.64 332.18,84.08 333.65,76.35 335.12,70.4 336.59,65.88 338.06,62.44 339.53,59.79 341,57.7 342.47,56.04 343.94,54.69 345.41,53.57 346.88,52.63 348.35,51.82 349.82,51.13 351.29,50.52 352.76,49.97 354.23,49.49 355.7,49.05 357.17,48.64 358.64,48.27 360.11,47.92 361.58,47.6 363.05,47.29 364.52,47 365.99,46.72 367.46,46.46 368.93,46.2 370.4,45.96 371.87,45.72 373.34,45.48 374.81,45.26 376.28,45.04 377.75,44.82 379.22,44.61 380.69,44.4 382.16,44.2 383.63,44 385.1,43.8" fill="none" stroke="#00c0c0" stroke-width="1.15" stroke-linejoin="round" clip-path="url(#cb)"/>
<polyline points="267.5,70 268.97,70.05 270.44,70.12 271.91,70.21 273.38,70.31 274.85,70.41 276.32,70.52 277.79,70.63 279.26,70.75 280.73,70.88 282.2,71 283.67,71.14 285.14,71.27 286.61,71.41 288.08,71.55 289.55,71.7 291.02,71.85 292.49,72 293.96,72.16 295.43,72.31 296.9,72.47 298.37,72.63 299.84,72.8 301.31,72.96 302.78,73.13 304.25,73.3 305.72,73.48 307.19,73.65 308.66,73.83 310.13,74.01 311.6,74.19 313.07,74.37 314.54,74.55 316.01,74.74 317.48,74.93 318.95,75.12 320.42,75.31 321.89,75.5 326.3,113 327.77,112.14 329.24,109.4 330.71,105.07 332.18,99.82 333.65,94.29 335.12,88.97 336.59,84.13 338.06,79.87 339.53,76.2 341,73.07 342.47,70.42 343.94,68.16 345.41,66.23 346.88,64.57 348.35,63.14 349.82,61.9 351.29,60.81 352.76,59.85 354.23,59 355.7,58.23 357.17,57.54 358.64,56.92 360.11,56.35 361.58,55.82 363.05,55.34 364.52,54.89 365.99,54.46 367.46,54.07 368.93,53.7 370.4,53.34 371.87,53.01 373.34,52.68 374.81,52.38 376.28,52.08 377.75,51.8 379.22,51.52 380.69,51.26 382.16,51 383.63,50.75 385.1,50.5" fill="none" stroke="#804000" stroke-width="1.15" stroke-linejoin="round" clip-path="url(#cb)"/>
<polyline points="267.5,76 268.97,76.05 270.44,76.12 271.91,76.21 273.38,76.31 274.85,76.41 276.32,76.52 277.79,76.63 279.26,76.75 280.73,76.88 282.2,77 283.67,77.14 285.14,77.27 286.61,77.41 288.08,77.55 289.55,77.7 291.02,77.85 292.49,78 293.96,78.16 295.43,78.31 296.9,78.47 298.37,78.63 299.84,78.8 301.31,78.96 302.78,79.13 304.25,79.3 305.72,79.48 307.19,79.65 308.66,79.83 310.13,80.01 311.6,80.19 313.07,80.37 314.54,80.55 316.01,80.74 317.48,80.93 318.95,81.12 320.42,81.31 321.89,81.5 326.3,115 327.77,113.2 329.24,107.92 330.71,100.56 332.18,92.75 333.65,85.56 335.12,79.44 336.59,74.42 338.06,70.37 339.53,67.11 341,64.48 342.47,62.33 343.94,60.56 345.41,59.08 346.88,57.84 348.35,56.78 349.82,55.86 351.29,55.06 352.76,54.35 354.23,53.73 355.7,53.16 357.17,52.65 358.64,52.18 360.11,51.75 361.58,51.35 363.05,50.98 364.52,50.63 365.99,50.3 367.46,49.99 368.93,49.69 370.4,49.4 371.87,49.13 373.34,48.86 374.81,48.61 376.28,48.36 377.75,48.12 379.22,47.89 380.69,47.66 382.16,47.43 383.63,47.22 385.1,47" fill="none" stroke="#00a000" stroke-width="1.15" stroke-linejoin="round" clip-path="url(#cb)"/>
<polyline points="267.5,74.5 268.97,74.55 270.44,74.62 271.91,74.71 273.38,74.81 274.85,74.91 276.32,75.02 277.79,75.13 279.26,75.25 280.73,75.38 282.2,75.5 283.67,75.64 285.14,75.77 286.61,75.91 288.08,76.05 289.55,76.2 291.02,76.35 292.49,76.5 293.96,76.66 295.43,76.81 296.9,76.97 298.37,77.13 299.84,77.3 301.31,77.46 302.78,77.63 304.25,77.8 305.72,77.98 307.19,78.15 308.66,78.33 310.13,78.51 311.6,78.69 313.07,78.87 314.54,79.05 316.01,79.24 317.48,79.43 318.95,79.62 320.42,79.81 321.89,80 326.3,116 327.77,114.9 329.24,111.47 330.71,106.21 332.18,100.03 333.65,93.74 335.12,87.87 336.59,82.69 338.06,78.24 339.53,74.48 341,71.33 342.47,68.69 343.94,66.47 345.41,64.59 346.88,62.99 348.35,61.61 349.82,60.42 351.29,59.38 352.76,58.46 354.23,57.65 355.7,56.92 357.17,56.26 358.64,55.67 360.11,55.12 361.58,54.62 363.05,54.16 364.52,53.73 365.99,53.33 367.46,52.95 368.93,52.59 370.4,52.25 371.87,51.93 373.34,51.62 374.81,51.32 376.28,51.03 377.75,50.76 379.22,50.49 380.69,50.23 382.16,49.98 383.63,49.74 385.1,49.5" fill="none" stroke="#6060c0" stroke-width="1.15" stroke-linejoin="round" clip-path="url(#cb)"/>
<polyline points="318.5,99 319,106 319.5,100" fill="none" stroke="#000" stroke-width="0.7" stroke-linejoin="round" />
<path d="M400.2,19.1 H252.3 V138.3 H400.2" fill="none" stroke="#000" stroke-width="1.3" stroke-linecap="square"/>
<line x1="400.2" y1="19.1" x2="400.2" y2="138.3" stroke="#000" stroke-width="1.3" stroke-linecap="square"/>
<path d="M267.5,138.3 v2.4 M296.9,138.3 v2.4 M326.3,138.3 v2.4 M355.7,138.3 v2.4 M385.1,138.3 v2.4" stroke="#000" stroke-width="1"/>
<path d="M267.5,19.1 v-2.4 M296.9,19.1 v-2.4 M326.3,19.1 v-2.4 M355.7,19.1 v-2.4 M385.1,19.1 v-2.4" stroke="#000" stroke-width="1"/>
<path d="M282.2,138.3 v1.4 M311.6,138.3 v1.4 M341,138.3 v1.4 M370.4,138.3 v1.4" stroke="#000" stroke-width="1"/>
<path d="M282.2,19.1 v-1.4 M311.6,19.1 v-1.4 M341,19.1 v-1.4 M370.4,19.1 v-1.4" stroke="#000" stroke-width="1"/>
<text x="267.5" y="148.9" font-size="8.2" text-anchor="middle" fill="#1a1a1a" >-1.0</text>
<text x="296.9" y="148.9" font-size="8.2" text-anchor="middle" fill="#1a1a1a" >-0.5</text>
<text x="326.3" y="148.9" font-size="8.2" text-anchor="middle" fill="#1a1a1a" >0.0</text>
<text x="355.7" y="148.9" font-size="8.2" text-anchor="middle" fill="#1a1a1a" >0.5</text>
<text x="385.1" y="148.9" font-size="8.2" text-anchor="middle" fill="#1a1a1a" >1.0</text>
<text x="326.5" y="160.3" font-size="10.2" text-anchor="middle" fill="#1a1a1a" >Voltage (V)</text>
<path d="M252.3,138.3 h-2.5 M252.3,116.7 h-2.5 M252.3,95.1 h-2.5 M252.3,73.5 h-2.5 M252.3,51.9 h-2.5 M252.3,30.3 h-2.5" stroke="#000" stroke-width="1"/>
<path d="M400.2,138.3 h2.5 M400.2,116.7 h2.5 M400.2,95.1 h2.5 M400.2,73.5 h2.5 M400.2,51.9 h2.5 M400.2,30.3 h2.5" stroke="#000" stroke-width="1"/>
<path d="M252.3,127.5 h-2 M252.3,105.9 h-2 M252.3,84.3 h-2 M252.3,62.7 h-2 M252.3,41.1 h-2 M252.3,19.5 h-2" stroke="#000" stroke-width="1"/>
<path d="M400.2,127.5 h2 M400.2,105.9 h2 M400.2,84.3 h2 M400.2,62.7 h2 M400.2,41.1 h2 M400.2,19.5 h2" stroke="#000" stroke-width="1"/>
<path d="M252.3,135.05 h-1.3 M252.3,133.15 h-1.3 M252.3,131.8 h-1.3 M252.3,130.75 h-1.3 M252.3,129.9 h-1.3 M252.3,129.17 h-1.3 M252.3,128.55 h-1.3 M252.3,127.99 h-1.3 M252.3,124.25 h-1.3 M252.3,122.35 h-1.3 M252.3,121 h-1.3 M252.3,119.95 h-1.3 M252.3,119.1 h-1.3 M252.3,118.37 h-1.3 M252.3,117.75 h-1.3 M252.3,117.19 h-1.3 M252.3,113.45 h-1.3 M252.3,111.55 h-1.3 M252.3,110.2 h-1.3 M252.3,109.15 h-1.3 M252.3,108.3 h-1.3 M252.3,107.57 h-1.3 M252.3,106.95 h-1.3 M252.3,106.39 h-1.3 M252.3,102.65 h-1.3 M252.3,100.75 h-1.3 M252.3,99.4 h-1.3 M252.3,98.35 h-1.3 M252.3,97.5 h-1.3 M252.3,96.77 h-1.3 M252.3,96.15 h-1.3 M252.3,95.59 h-1.3 M252.3,91.85 h-1.3 M252.3,89.95 h-1.3 M252.3,88.6 h-1.3 M252.3,87.55 h-1.3 M252.3,86.7 h-1.3 M252.3,85.97 h-1.3 M252.3,85.35 h-1.3 M252.3,84.79 h-1.3 M252.3,81.05 h-1.3 M252.3,79.15 h-1.3 M252.3,77.8 h-1.3 M252.3,76.75 h-1.3 M252.3,75.9 h-1.3 M252.3,75.17 h-1.3 M252.3,74.55 h-1.3 M252.3,73.99 h-1.3 M252.3,70.25 h-1.3 M252.3,68.35 h-1.3 M252.3,67 h-1.3 M252.3,65.95 h-1.3 M252.3,65.1 h-1.3 M252.3,64.37 h-1.3 M252.3,63.75 h-1.3 M252.3,63.19 h-1.3 M252.3,59.45 h-1.3 M252.3,57.55 h-1.3 M252.3,56.2 h-1.3 M252.3,55.15 h-1.3 M252.3,54.3 h-1.3 M252.3,53.57 h-1.3 M252.3,52.95 h-1.3 M252.3,52.39 h-1.3 M252.3,48.65 h-1.3 M252.3,46.75 h-1.3 M252.3,45.4 h-1.3 M252.3,44.35 h-1.3 M252.3,43.5 h-1.3 M252.3,42.77 h-1.3 M252.3,42.15 h-1.3 M252.3,41.59 h-1.3 M252.3,37.85 h-1.3 M252.3,35.95 h-1.3 M252.3,34.6 h-1.3 M252.3,33.55 h-1.3 M252.3,32.7 h-1.3 M252.3,31.97 h-1.3 M252.3,31.35 h-1.3 M252.3,30.79 h-1.3 M252.3,27.05 h-1.3 M252.3,25.15 h-1.3 M252.3,23.8 h-1.3 M252.3,22.75 h-1.3 M252.3,21.9 h-1.3 M252.3,21.17 h-1.3 M252.3,20.55 h-1.3 M252.3,19.99 h-1.3" stroke="#000" stroke-width="0.6"/>
<path d="M400.2,135.05 h1.3 M400.2,133.15 h1.3 M400.2,131.8 h1.3 M400.2,130.75 h1.3 M400.2,129.9 h1.3 M400.2,129.17 h1.3 M400.2,128.55 h1.3 M400.2,127.99 h1.3 M400.2,124.25 h1.3 M400.2,122.35 h1.3 M400.2,121 h1.3 M400.2,119.95 h1.3 M400.2,119.1 h1.3 M400.2,118.37 h1.3 M400.2,117.75 h1.3 M400.2,117.19 h1.3 M400.2,113.45 h1.3 M400.2,111.55 h1.3 M400.2,110.2 h1.3 M400.2,109.15 h1.3 M400.2,108.3 h1.3 M400.2,107.57 h1.3 M400.2,106.95 h1.3 M400.2,106.39 h1.3 M400.2,102.65 h1.3 M400.2,100.75 h1.3 M400.2,99.4 h1.3 M400.2,98.35 h1.3 M400.2,97.5 h1.3 M400.2,96.77 h1.3 M400.2,96.15 h1.3 M400.2,95.59 h1.3 M400.2,91.85 h1.3 M400.2,89.95 h1.3 M400.2,88.6 h1.3 M400.2,87.55 h1.3 M400.2,86.7 h1.3 M400.2,85.97 h1.3 M400.2,85.35 h1.3 M400.2,84.79 h1.3 M400.2,81.05 h1.3 M400.2,79.15 h1.3 M400.2,77.8 h1.3 M400.2,76.75 h1.3 M400.2,75.9 h1.3 M400.2,75.17 h1.3 M400.2,74.55 h1.3 M400.2,73.99 h1.3 M400.2,70.25 h1.3 M400.2,68.35 h1.3 M400.2,67 h1.3 M400.2,65.95 h1.3 M400.2,65.1 h1.3 M400.2,64.37 h1.3 M400.2,63.75 h1.3 M400.2,63.19 h1.3 M400.2,59.45 h1.3 M400.2,57.55 h1.3 M400.2,56.2 h1.3 M400.2,55.15 h1.3 M400.2,54.3 h1.3 M400.2,53.57 h1.3 M400.2,52.95 h1.3 M400.2,52.39 h1.3 M400.2,48.65 h1.3 M400.2,46.75 h1.3 M400.2,45.4 h1.3 M400.2,44.35 h1.3 M400.2,43.5 h1.3 M400.2,42.77 h1.3 M400.2,42.15 h1.3 M400.2,41.59 h1.3 M400.2,37.85 h1.3 M400.2,35.95 h1.3 M400.2,34.6 h1.3 M400.2,33.55 h1.3 M400.2,32.7 h1.3 M400.2,31.97 h1.3 M400.2,31.35 h1.3 M400.2,30.79 h1.3 M400.2,27.05 h1.3 M400.2,25.15 h1.3 M400.2,23.8 h1.3 M400.2,22.75 h1.3 M400.2,21.9 h1.3 M400.2,21.17 h1.3 M400.2,20.55 h1.3 M400.2,19.99 h1.3" stroke="#000" stroke-width="0.6"/>
<text x="248.3" y="33.2" font-size="8.2" text-anchor="end" fill="#1a1a1a" >1E-4</text>
<text x="248.3" y="54.8" font-size="8.2" text-anchor="end" fill="#1a1a1a" >1E-6</text>
<text x="248.3" y="76.4" font-size="8.2" text-anchor="end" fill="#1a1a1a" >1E-8</text>
<text x="248.3" y="98" font-size="8.2" text-anchor="end" fill="#1a1a1a" >1E-10</text>
<text x="248.3" y="119.6" font-size="8.2" text-anchor="end" fill="#1a1a1a" >1E-12</text>
<text x="248.3" y="141.2" font-size="8.2" text-anchor="end" fill="#1a1a1a" >1E-14</text>
<text x="0" y="0" font-size="10.2" text-anchor="middle" fill="#1a1a1a" transform="translate(224.5,75.2) rotate(-90)">Current (A)</text>
<text x="264.5" y="40" font-size="12.5" text-anchor="start" fill="#111" >25 devices</text>
<pattern id="hatch" patternUnits="userSpaceOnUse" width="2.83" height="2.83" patternTransform="rotate(-45)"><rect width="2.83" height="2.83" fill="#ffc2c2"/><rect width="1" height="2.83" fill="#ffe8e8"/></pattern>
<rect x="458.7" y="66.3" width="23.4" height="74.4" fill="url(#hatch)" stroke="#ff1a1a" stroke-width="1.2"/>
<rect x="482.1" y="53.9" width="23.4" height="86.8" fill="url(#hatch)" stroke="#ff1a1a" stroke-width="1.2"/>
<rect x="505.5" y="53.9" width="23.4" height="86.8" fill="url(#hatch)" stroke="#ff1a1a" stroke-width="1.2"/>
<rect x="528.9" y="115.9" width="23.4" height="24.8" fill="url(#hatch)" stroke="#ff1a1a" stroke-width="1.2"/>
<rect x="552.3" y="103.5" width="23.4" height="37.2" fill="url(#hatch)" stroke="#ff1a1a" stroke-width="1.2"/>
<path d="M598.6,19.1 H435.3 V140.7 H598.6" fill="none" stroke="#000" stroke-width="1.3" stroke-linecap="square"/>
<line x1="598.6" y1="19.1" x2="598.6" y2="140.7" stroke="#000" stroke-width="1.3" stroke-linecap="square"/>
<path d="M435.3,140.7 v2.3 M458.7,140.7 v2.3 M482.1,140.7 v2.3 M505.5,140.7 v2.3 M528.9,140.7 v2.3 M552.3,140.7 v2.3 M575.7,140.7 v2.3 M599.1,140.7 v2.3" stroke="#000" stroke-width="1"/>
<path d="M435.3,19.1 v-2.3 M458.7,19.1 v-2.3 M482.1,19.1 v-2.3 M505.5,19.1 v-2.3 M528.9,19.1 v-2.3 M552.3,19.1 v-2.3 M575.7,19.1 v-2.3 M599.1,19.1 v-2.3" stroke="#000" stroke-width="1"/>
<path d="M435.3,140.7 h-2.3 M435.3,128.3 h-2.3 M435.3,115.9 h-2.3 M435.3,103.5 h-2.3 M435.3,91.1 h-2.3 M435.3,78.7 h-2.3 M435.3,66.3 h-2.3 M435.3,53.9 h-2.3 M435.3,41.5 h-2.3 M435.3,29.1 h-2.3" stroke="#000" stroke-width="1"/>
<path d="M598.6,140.7 h2.3 M598.6,128.3 h2.3 M598.6,115.9 h2.3 M598.6,103.5 h2.3 M598.6,91.1 h2.3 M598.6,78.7 h2.3 M598.6,66.3 h2.3 M598.6,53.9 h2.3 M598.6,41.5 h2.3 M598.6,29.1 h2.3" stroke="#000" stroke-width="1"/>
<text x="435.3" y="150.3" font-size="8.2" text-anchor="middle" fill="#1a1a1a" >2</text>
<text x="482.1" y="150.3" font-size="8.2" text-anchor="middle" fill="#1a1a1a" >3</text>
<text x="528.9" y="150.3" font-size="8.2" text-anchor="middle" fill="#1a1a1a" >4</text>
<text x="575.7" y="150.3" font-size="8.2" text-anchor="middle" fill="#1a1a1a" >5</text>
<text x="432" y="143.6" font-size="8.2" text-anchor="end" fill="#1a1a1a" >0</text>
<text x="432" y="118.8" font-size="8.2" text-anchor="end" fill="#1a1a1a" >2</text>
<text x="432" y="94" font-size="8.2" text-anchor="end" fill="#1a1a1a" >4</text>
<text x="432" y="69.2" font-size="8.2" text-anchor="end" fill="#1a1a1a" >6</text>
<text x="432" y="44.4" font-size="8.2" text-anchor="end" fill="#1a1a1a" >8</text>
<text x="516.7" y="161" font-size="10.2" text-anchor="middle" fill="#1a1a1a" >Log(rectification ratio)</text>
<text x="0" y="0" font-size="10.2" text-anchor="middle" fill="#1a1a1a" transform="translate(423,80.2) rotate(-90)">Count</text>
<text x="492.6" y="37.3" font-size="10.3" text-anchor="start" fill="#111" >3.5 <tspan fill="#888" font-size="9">&#177;</tspan> 0.6</text>
<line x1="37.2" y1="255.4" x2="184.7" y2="255.4" stroke="#333" stroke-width="0.9" stroke-dasharray="3,2.6"/>
<polyline points="51.75,218.02 51.99,219.13 52.23,220.47 52.46,222.03 52.7,223.82 52.94,225.81 53.17,228 53.41,230.36 53.64,232.89 53.88,235.56 54.12,238.37 54.35,241.28 54.59,244.29 54.82,247.37 55.06,250.5 55.3,253.67 55.53,256.84 55.77,260.01 56,263.15 56.24,266.23 56.48,269.25 56.71,272.17 56.95,274.99 57.18,277.68 57.42,280.22 57.66,282.6 57.89,284.8 58.13,286.81 58.37,288.61 58.6,290.2 58.84,291.56 59.07,292.69 59.31,293.57 59.55,294.2 59.78,294.58 60.02,294.7 60.25,294.57 60.49,294.18 60.73,293.53 60.96,292.64 61.2,291.5 61.43,290.13 61.67,288.53 61.91,286.72 62.14,284.7 62.38,282.49 62.61,280.1 62.85,277.55 63.09,274.86 63.32,272.04 63.56,269.11 63.8,266.09 64.03,263 64.27,259.86 64.5,256.7 64.74,253.52 64.98,250.36 65.21,247.23 65.45,244.15 65.68,241.14 65.92,238.23 66.16,235.44 66.39,232.77 66.63,230.25 66.86,227.89 67.1,225.71 67.34,223.73 67.57,221.96 67.81,220.4 68.04,219.07 68.28,217.98 68.52,217.13 68.75,216.53 68.99,216.19 69.23,216.1 69.46,216.27 69.7,216.7 69.93,217.38 70.17,218.3 70.41,219.47 70.64,220.87 70.88,222.5 71.11,224.35 71.35,226.39 71.59,228.63 71.82,231.04 72.06,233.61 72.29,236.32 72.53,239.16 72.77,242.1 73,245.13 73.24,248.23 73.47,251.37 73.71,254.54 73.95,257.71 74.18,260.87 74.42,264 74.66,267.07 74.89,270.06 75.13,272.96 75.36,275.74 75.6,278.39 75.84,280.89 76.07,283.22 76.31,285.37 76.54,287.32 76.78,289.07 77.02,290.6 77.25,291.89 77.49,292.95 77.72,293.77 77.96,294.33 78.2,294.64 78.43,294.69 78.67,294.48 78.9,294.02 79.14,293.31 79.38,292.35 79.61,291.15 79.85,289.72 80.09,288.06 80.32,286.19 80.56,284.11 80.79,281.85 81.03,279.42 81.27,276.83 81.5,274.1 81.74,271.25 81.97,268.29 82.21,265.25 82.45,262.15 82.68,259 82.92,255.83 83.15,252.65 83.39,249.49 83.63,246.38 83.86,243.32 84.1,240.34 84.33,237.45 84.57,234.69 84.81,232.06 85.04,229.58 85.28,227.28 85.52,225.15 85.75,223.22 85.99,221.51 86.22,220.01 86.46,218.75 86.7,217.72 86.93,216.94 87.17,216.41 87.4,216.14 87.64,216.12 87.88,216.36 88.11,216.86 88.35,217.61 88.58,218.6 88.82,219.83 89.06,221.3 89.29,222.99 89.53,224.89 89.76,226.99 90,229.27 90.24,231.73 90.47,234.34 90.71,237.09 90.95,239.95 91.18,242.92 91.42,245.97 91.65,249.08 91.89,252.24 92.13,255.41 92.36,258.58 92.6,261.74 92.83,264.85 93.07,267.9 93.31,270.86 93.54,273.73 93.78,276.48 94.01,279.09 94.25,281.54 94.49,283.83 94.72,285.93 94.96,287.82 95.19,289.51 95.43,290.98 95.67,292.21 95.9,293.2 96.14,293.95 96.38,294.44 96.61,294.68 96.85,294.66 97.08,294.38 97.32,293.85 97.56,293.07 97.79,292.05 98.03,290.78 98.26,289.28 98.5,287.57 98.74,285.64 98.97,283.51 99.21,281.2 99.44,278.72 99.68,276.09 99.92,273.33 100.15,270.45 100.39,267.46 100.62,264.4 100.86,261.29 101.1,258.13 101.33,254.95 101.57,251.78 101.81,248.63 102.04,245.53 102.28,242.49 102.51,239.54 102.75,236.68 102.99,233.95 103.22,231.37 103.46,228.93 103.69,226.67 103.93,224.6 104.17,222.73 104.4,221.07 104.64,219.64 104.87,218.44 105.11,217.48 105.35,216.77 105.58,216.31 105.82,216.11 106.05,216.16 106.29,216.47 106.53,217.04 106.76,217.85 107,218.91 107.24,220.21 107.47,221.74 107.71,223.49 107.94,225.44 108.18,227.59 108.42,229.93 108.65,232.43 108.89,235.08 109.12,237.86 109.36,240.76 109.6,243.75 109.83,246.82 110.07,249.94 110.3,253.11 110.54,256.28 110.78,259.45 111.01,262.59 111.25,265.69 111.48,268.72 111.72,271.66 111.96,274.5 112.19,277.21 112.43,279.78 112.67,282.19 112.9,284.42 113.14,286.47 113.37,288.31 113.61,289.94 113.85,291.34 114.08,292.5 114.32,293.43 114.55,294.11 114.79,294.53 115.03,294.7 115.26,294.61 115.5,294.26 115.73,293.66 115.97,292.82 116.21,291.72 116.44,290.39 116.68,288.83 116.91,287.06 117.15,285.07 117.39,282.9 117.62,280.54 117.86,278.02 118.1,275.35 118.33,272.55 118.57,269.64 118.8,266.63 119.04,263.55 119.28,260.42 119.51,257.26 119.75,254.08 119.98,250.92 120.22,247.78 120.46,244.69 120.69,241.67 120.93,238.74 121.16,235.92 121.4,233.23 121.64,230.68 121.87,228.3 122.11,226.09 122.34,224.07 122.58,222.26 122.82,220.66 123.05,219.29 123.29,218.15 123.53,217.26 123.76,216.62 124,216.23 124.23,216.1 124.47,216.22 124.71,216.6 124.94,217.24 125.18,218.12 125.41,219.25 125.65,220.61 125.89,222.2 126.12,224 126.36,226.01 126.59,228.22 126.83,230.6 127.07,233.14 127.3,235.83 127.54,238.64 127.77,241.57 128.01,244.59 128.25,247.67 128.48,250.81 128.72,253.98 128.96,257.15 129.19,260.32 129.43,263.45 129.66,266.53 129.9,269.54 130.14,272.45 130.37,275.25 130.61,277.93 130.84,280.45 131.08,282.82 131.32,285 131.55,286.99 131.79,288.78 132.02,290.34 132.26,291.68 132.5,292.78 132.73,293.64 132.97,294.25 133.2,294.6 133.44,294.7 133.68,294.54 133.91,294.12 134.15,293.46 134.39,292.54 134.62,291.38 134.86,289.99 135.09,288.37 135.33,286.53 135.57,284.49 135.8,282.27 136.04,279.86 136.27,277.3 136.51,274.59 136.75,271.76 136.98,268.82 137.22,265.8 137.45,262.7 137.69,259.56 137.93,256.39 138.16,253.21 138.4,250.05 138.63,246.93 138.87,243.85 139.11,240.86 139.34,237.96 139.58,235.17 139.82,232.52 140.05,230.01 140.29,227.67 140.52,225.51 140.76,223.55 141,221.8 141.23,220.26 141.47,218.95 141.7,217.89 141.94,217.06 142.18,216.49 142.41,216.17 142.65,216.11 142.88,216.3 143.12,216.75 143.36,217.45 143.59,218.4 143.83,219.6 144.06,221.02 144.3,222.67 144.54,224.53 144.77,226.6 145.01,228.85 145.25,231.28 145.48,233.86 145.72,236.59 145.95,239.44 146.19,242.39 146.43,245.43 146.66,248.53 146.9,251.67 147.13,254.85 147.37,258.02 147.61,261.18 147.84,264.3 148.08,267.36 148.31,270.34 148.55,273.23 148.79,276 149.02,278.64 149.26,281.12 149.49,283.43 149.73,285.57 149.97,287.5 150.2,289.23 150.44,290.73 150.68,292.01 150.91,293.04 151.15,293.83 151.38,294.37 151.62,294.65 151.86,294.68 152.09,294.45 152.33,293.97 152.56,293.23 152.8,292.25 153.04,291.02 153.27,289.57 153.51,287.89 153.74,285.99 153.98,283.9 154.22,281.62 154.45,279.18 154.69,276.57 154.92,273.83 155.16,270.96 155.4,268 155.63,264.95 155.87,261.84 156.11,258.69 156.34,255.52 156.58,252.34 156.81,249.19 157.05,246.08 157.29,243.03 157.52,240.05 157.76,237.18 157.99,234.43 158.23,231.81 158.47,229.35 158.7,227.06 158.94,224.96 159.17,223.05 159.41,221.35 159.65,219.88 159.88,218.64 160.12,217.64 160.35,216.88 160.59,216.38 160.83,216.13 161.06,216.14 161.3,216.4 161.54,216.92 161.77,217.69 162.01,218.71 162.24,219.96 162.48,221.45 162.72,223.16 162.95,225.08 163.19,227.2 163.42,229.5 163.66,231.97 163.9,234.6 164.13,237.36 164.37,240.24 164.6,243.21 164.84,246.27 165.08,249.39 165.31,252.54 165.55,255.72 165.78,258.89 166.02,262.04 166.26,265.14 166.49,268.19 166.73,271.15 166.97,274 167.2,276.74 167.44,279.33 167.67,281.77 167.91,284.04 168.15,286.12 168.38,288 168.62,289.66 168.85,291.11 169.09,292.32 169.33,293.28 169.56,294" fill="none" stroke="#1a1a1a" stroke-width="1.25" stroke-linejoin="round" />
<polyline points="51.75,227.93 53.08,228.04 54.4,227.74 55.73,227.9 57.05,228.17 58.37,228.17 59.7,227.63 61.02,227.69 62.34,227.58 63.67,227.85 64.99,227.56 66.32,227.86 67.64,227.99 68.96,227.73 70.29,228.01 71.61,227.95 72.93,227.56 74.26,227.93 75.58,227.72 76.9,227.83 78.23,227.74 79.55,228.03 80.88,227.85 82.2,227.65 83.52,227.92 84.85,228.09 86.17,227.75 87.49,227.7 88.82,227.81 90.14,228.2 91.47,228.22 92.79,228.01 94.11,228.17 95.44,228.13 96.76,227.8 98.08,227.6 99.41,228 100.73,227.93 102.05,227.79 103.38,227.7 104.7,227.82 106.03,227.87 107.35,227.73 108.67,227.74 110,227.86 111.32,228.14 112.64,227.95 113.97,227.74 115.29,227.73 116.62,227.86 117.94,227.68 119.26,227.68 120.59,227.9 121.91,227.6 123.23,227.88 124.56,227.79 125.88,228.04 127.2,228.06 128.53,228.02 129.85,228.02 131.18,227.8 132.5,228.01 133.82,227.78 135.15,227.94 136.47,227.77 137.79,227.85 139.12,227.58 140.44,227.71 141.76,228.22 143.09,227.7 144.41,228.02 145.74,228 147.06,228.05 148.38,227.87 149.71,227.96 151.03,227.59 152.35,227.59 153.68,227.68 155,227.65 156.33,227.61 157.65,227.63 158.97,227.93 160.3,227.67 161.62,228.21 162.94,228.02 164.27,227.92 165.59,228.04 166.91,227.72 168.24,228.19 169.56,228.13" fill="none" stroke="#ff0000" stroke-width="1.15" stroke-linejoin="round" />
<path d="M184.7,186.3 H37.2 V305.3 H184.7" fill="none" stroke="#000" stroke-width="1.3" stroke-linecap="square"/>
<line x1="184.7" y1="186.3" x2="184.7" y2="305.3" stroke="#000" stroke-width="1.3" stroke-linecap="square"/>
<path d="M37.08,305.3 v2.2 M46.25,305.3 v2.2 M55.43,305.3 v2.2 M64.6,305.3 v2.2 M73.78,305.3 v2.2 M82.95,305.3 v2.2 M92.13,305.3 v2.2 M101.3,305.3 v2.2 M110.48,305.3 v2.2 M119.65,305.3 v2.2 M128.82,305.3 v2.2 M138,305.3 v2.2 M147.18,305.3 v2.2 M156.35,305.3 v2.2 M165.53,305.3 v2.2 M174.7,305.3 v2.2 M183.88,305.3 v2.2" stroke="#000" stroke-width="1"/>
<path d="M37.08,186.3 v-2.2 M46.25,186.3 v-2.2 M55.43,186.3 v-2.2 M64.6,186.3 v-2.2 M73.78,186.3 v-2.2 M82.95,186.3 v-2.2 M92.13,186.3 v-2.2 M101.3,186.3 v-2.2 M110.48,186.3 v-2.2 M119.65,186.3 v-2.2 M128.82,186.3 v-2.2 M138,186.3 v-2.2 M147.18,186.3 v-2.2 M156.35,186.3 v-2.2 M165.53,186.3 v-2.2 M174.7,186.3 v-2.2 M183.88,186.3 v-2.2" stroke="#000" stroke-width="1"/>
<path d="M37.2,304.52 h-2.3 M37.2,294.7 h-2.3 M37.2,284.88 h-2.3 M37.2,275.05 h-2.3 M37.2,265.23 h-2.3 M37.2,255.4 h-2.3 M37.2,245.58 h-2.3 M37.2,235.75 h-2.3 M37.2,225.93 h-2.3 M37.2,216.1 h-2.3 M37.2,206.28 h-2.3 M37.2,196.45 h-2.3 M37.2,186.62 h-2.3" stroke="#000" stroke-width="1"/>
<path d="M184.7,304.52 h2.3 M184.7,294.7 h2.3 M184.7,284.88 h2.3 M184.7,275.05 h2.3 M184.7,265.23 h2.3 M184.7,255.4 h2.3 M184.7,245.58 h2.3 M184.7,235.75 h2.3 M184.7,225.93 h2.3 M184.7,216.1 h2.3 M184.7,206.28 h2.3 M184.7,196.45 h2.3 M184.7,186.62 h2.3" stroke="#000" stroke-width="1"/>
<text x="46.25" y="315.7" font-size="8.2" text-anchor="middle" fill="#1a1a1a" >-0.3</text>
<text x="64.6" y="315.7" font-size="8.2" text-anchor="middle" fill="#1a1a1a" >-0.2</text>
<text x="82.95" y="315.7" font-size="8.2" text-anchor="middle" fill="#1a1a1a" >-0.1</text>
<text x="101.3" y="315.7" font-size="8.2" text-anchor="middle" fill="#1a1a1a" >0.0</text>
<text x="119.65" y="315.7" font-size="8.2" text-anchor="middle" fill="#1a1a1a" >0.1</text>
<text x="138" y="315.7" font-size="8.2" text-anchor="middle" fill="#1a1a1a" >0.2</text>
<text x="156.35" y="315.7" font-size="8.2" text-anchor="middle" fill="#1a1a1a" >0.3</text>
<text x="174.7" y="315.7" font-size="8.2" text-anchor="middle" fill="#1a1a1a" >0.4</text>
<text x="33" y="297.6" font-size="8.2" text-anchor="end" fill="#1a1a1a" >-1.0</text>
<text x="33" y="277.95" font-size="8.2" text-anchor="end" fill="#1a1a1a" >-0.5</text>
<text x="33" y="258.3" font-size="8.2" text-anchor="end" fill="#1a1a1a" >0.0</text>
<text x="33" y="238.65" font-size="8.2" text-anchor="end" fill="#1a1a1a" >0.5</text>
<text x="33" y="219" font-size="8.2" text-anchor="end" fill="#1a1a1a" >1.0</text>
<text x="33" y="199.35" font-size="8.2" text-anchor="end" fill="#1a1a1a" >1.5</text>
<text x="39.7" y="197.6" font-size="10.1" text-anchor="start" fill="#111" >f = 10 Hz</text>
<line x1="135" y1="192.8" x2="154.9" y2="192.8" stroke="#444" stroke-width="1.3" />
<line x1="135" y1="203.2" x2="154.9" y2="203.2" stroke="#ff0000" stroke-width="1.1" />
<text x="157.9" y="195.9" font-size="8.4" text-anchor="start" fill="#222" >input</text>
<text x="157.9" y="206.3" font-size="8.4" text-anchor="start" fill="#222" >output</text>
<text x="110.95" y="329.8" font-size="10.2" text-anchor="middle" fill="#1a1a1a" >Time (s)</text>
<text x="0" y="0" font-size="10.2" text-anchor="middle" fill="#1a1a1a" transform="translate(12.3,242.4) rotate(-90)">Voltage (V)</text>
<line x1="252.4" y1="255.4" x2="400" y2="255.4" stroke="#333" stroke-width="0.9" stroke-dasharray="3,2.6"/>
<polyline points="266.99,293.47 267.23,292.55 267.47,291.4 267.71,290.01 267.94,288.39 268.18,286.56 268.42,284.53 268.65,282.3 268.89,279.91 269.13,277.35 269.37,274.64 269.6,271.82 269.84,268.88 270.08,265.86 270.32,262.77 270.55,259.63 270.79,256.46 271.03,253.29 271.27,250.13 271.5,247.01 271.74,243.94 271.98,240.94 272.21,238.04 272.45,235.25 272.69,232.59 272.93,230.09 273.16,227.74 273.4,225.58 273.64,223.61 273.88,221.85 274.11,220.31 274.35,219 274.59,217.92 274.82,217.09 275.06,216.51 275.3,216.18 275.54,216.11 275.77,216.29 276.01,216.73 276.25,217.42 276.49,218.36 276.72,219.54 276.96,220.95 277.2,222.59 277.44,224.45 277.67,226.5 277.91,228.74 278.15,231.16 278.38,233.74 278.62,236.45 278.86,239.29 279.1,242.24 279.33,245.27 279.57,248.36 279.81,251.51 280.05,254.68 280.28,257.85 280.52,261 280.76,264.13 281,267.19 281.23,270.18 281.47,273.07 281.71,275.84 281.94,278.48 282.18,280.97 282.42,283.3 282.66,285.44 282.89,287.39 283.13,289.12 283.37,290.64 283.61,291.93 283.84,292.98 284.08,293.79 284.32,294.34 284.55,294.64 284.79,294.69 285.03,294.48 285.27,294.01 285.5,293.29 285.74,292.33 285.98,291.12 286.22,289.68 286.45,288.02 286.69,286.14 286.93,284.07 287.17,281.81 287.4,279.37 287.64,276.78 287.88,274.05 288.11,271.2 288.35,268.24 288.59,265.2 288.83,262.1 289.06,258.96 289.3,255.79 289.54,252.61 289.78,249.46 290.01,246.34 290.25,243.29 290.49,240.31 290.73,237.43 290.96,234.67 291.2,232.04 291.44,229.57 291.67,227.26 291.91,225.14 292.15,223.22 292.39,221.5 292.62,220.01 292.86,218.75 293.1,217.72 293.34,216.94 293.57,216.41 293.81,216.14 294.05,216.12 294.28,216.36 294.52,216.86 294.76,217.6 295,218.59 295.23,219.82 295.47,221.29 295.71,222.97 295.95,224.87 296.18,226.96 296.42,229.25 296.66,231.7 296.9,234.3 297.13,237.05 297.37,239.91 297.61,242.88 297.84,245.92 298.08,249.03 298.32,252.18 298.56,255.35 298.79,258.52 299.03,261.67 299.27,264.78 299.51,267.83 299.74,270.8 299.98,273.67 300.22,276.42 300.46,279.03 300.69,281.48 300.93,283.77 301.17,285.87 301.4,287.78 301.64,289.47 301.88,290.94 302.12,292.18 302.35,293.17 302.59,293.93 302.83,294.43 303.07,294.67 303.3,294.66 303.54,294.4 303.78,293.88 304.01,293.11 304.25,292.09 304.49,290.83 304.73,289.34 304.96,287.64 305.2,285.72 305.44,283.6 305.68,281.3 305.91,278.83 306.15,276.21 306.39,273.45 306.63,270.58 306.86,267.6 307.1,264.55 307.34,261.43 307.57,258.28 307.81,255.11 308.05,251.94 308.29,248.79 308.52,245.69 308.76,242.65 309,239.69 309.24,236.83 309.47,234.1 309.71,231.5 309.95,229.06 310.18,226.8 310.42,224.71 310.66,222.83 310.9,221.16 311.13,219.72 311.37,218.51 311.61,217.53 311.85,216.81 312.08,216.34 312.32,216.12 312.56,216.15 312.8,216.45 313.03,216.99 313.27,217.79 313.51,218.83 313.74,220.12 313.98,221.63 314.22,223.36 314.46,225.3 314.69,227.44 314.93,229.76 315.17,232.24 315.41,234.88 315.64,237.65 315.88,240.54 316.12,243.52 316.36,246.58 316.59,249.7 316.83,252.86 317.07,256.03 317.3,259.2 317.54,262.34 317.78,265.44 318.02,268.47 318.25,271.42 318.49,274.27 318.73,276.99 318.97,279.57 319.2,281.99 319.44,284.24 319.68,286.3 319.91,288.16 320.15,289.8 320.39,291.22 320.63,292.41 320.86,293.36 321.1,294.05 321.34,294.5 321.58,294.69 321.81,294.63 322.05,294.31 322.29,293.73 322.53,292.91 322.76,291.84 323,290.53 323.24,289 323.47,287.24 323.71,285.28 323.95,283.12 324.19,280.79 324.42,278.28 324.66,275.63 324.9,272.85 325.14,269.95 325.37,266.95 325.61,263.89 325.85,260.76 326.09,257.6 326.32,254.43 326.56,251.26 326.8,248.12 327.03,245.03 327.27,242.01 327.51,239.07 327.75,236.24 327.98,233.53 328.22,230.97 328.46,228.56 328.7,226.33 328.93,224.3 329.17,222.46 329.41,220.84 329.64,219.44 329.88,218.28 330.12,217.36 330.36,216.69 330.59,216.27 330.83,216.1 331.07,216.19 331.31,216.54 331.54,217.14 331.78,217.99 332.02,219.09 332.26,220.42 332.49,221.98 332.73,223.76 332.97,225.74 333.2,227.92 333.44,230.27 333.68,232.79 333.92,235.46 334.15,238.26 334.39,241.17 334.63,244.17 334.87,247.25 335.1,250.37 335.34,253.54 335.58,256.71 335.82,259.87 336.05,263.01 336.29,266.1 336.53,269.11 336.76,272.04 337,274.86 337.24,277.55 337.48,280.1 337.71,282.48 337.95,284.69 338.19,286.71 338.43,288.52 338.66,290.12 338.9,291.5 339.14,292.63 339.37,293.53 339.61,294.17 339.85,294.56 340.09,294.7 340.32,294.58 340.56,294.21 340.8,293.58 341.04,292.7 341.27,291.58 341.51,290.22 341.75,288.64 341.99,286.84 342.22,284.84 342.46,282.64 342.7,280.27 342.93,277.73 343.17,275.05 343.41,272.24 343.65,269.32 343.88,266.3 344.12,263.22 344.36,260.09 344.6,256.93 344.83,253.75 345.07,250.59 345.31,247.46 345.55,244.38 345.78,241.37 346.02,238.45 346.26,235.65 346.49,232.97 346.73,230.44 346.97,228.07 347.21,225.88 347.44,223.89 347.68,222.09 347.92,220.52 348.16,219.17 348.39,218.06 348.63,217.19 348.87,216.58 349.1,216.21 349.34,216.1 349.58,216.25 349.82,216.65 350.05,217.3 350.29,218.21 350.53,219.35 350.77,220.73 351,222.34 351.24,224.16 351.48,226.19 351.72,228.41 351.95,230.8 352.19,233.35 352.43,236.05 352.66,238.87 352.9,241.8 353.14,244.82 353.38,247.91 353.61,251.05 353.85,254.21 354.09,257.39 354.33,260.55 354.56,263.67 354.8,266.75 355.04,269.75 355.28,272.65 355.51,275.44 355.75,278.11 355.99,280.62 356.22,282.97 356.46,285.14 356.7,287.12 356.94,288.88 357.17,290.44 357.41,291.76 357.65,292.84 357.89,293.68 358.12,294.28 358.36,294.61 358.6,294.7 358.83,294.52 359.07,294.09 359.31,293.41 359.55,292.48 359.78,291.31 360.02,289.91 360.26,288.28 360.5,286.43 360.73,284.38 360.97,282.15 361.21,279.74 361.45,277.17 361.68,274.46 361.92,271.62 362.16,268.68 362.39,265.65 362.63,262.56 362.87,259.42 363.11,256.25 363.34,253.08 363.58,249.92 363.82,246.8 364.06,243.73 364.29,240.74 364.53,237.85 364.77,235.07 365.01,232.42 365.24,229.92 365.48,227.59 365.72,225.44 365.95,223.49 366.19,221.74 366.43,220.21 366.67,218.91 366.9,217.86 367.14,217.04 367.38,216.48 367.62,216.17 367.85,216.11 368.09,216.31 368.33,216.77 368.56,217.48 368.8,218.43 369.04,219.63 369.28,221.06 369.51,222.71 369.75,224.58 369.99,226.65 370.23,228.9 370.46,231.33 370.7,233.92 370.94,236.64 371.18,239.49 371.41,242.44 371.65,245.48 371.89,248.58 372.12,251.72 372.36,254.89 372.6,258.06 372.84,261.22 373.07,264.33 373.31,267.39 373.55,270.37 373.79,273.26 374.02,276.02 374.26,278.66 374.5,281.14 374.74,283.45 374.97,285.58 375.21,287.51 375.45,289.23 375.68,290.74 375.92,292.01 376.16,293.04 376.4,293.83 376.63,294.37 376.87,294.65 377.11,294.68 377.35,294.45 377.58,293.97 377.82,293.23 378.06,292.25 378.29,291.03 378.53,289.58 378.77,287.9 379.01,286.01 379.24,283.92 379.48,281.65 379.72,279.2 379.96,276.6 380.19,273.86 380.43,271 380.67,268.04 380.91,265 381.14,261.89 381.38,258.74 381.62,255.57 381.85,252.4 382.09,249.25 382.33,246.14 382.57,243.08 382.8,240.11 383.04,237.24 383.28,234.49 383.52,231.87 383.75,229.41 383.99,227.11 384.23,225.01 384.47,223.09 384.7,221.39 384.94,219.92 385.18,218.67 385.41,217.66" fill="none" stroke="#1a1a1a" stroke-width="1.25" stroke-linejoin="round" />
<polyline points="266.99,234.72 268.32,234.83 269.65,234.54 270.99,234.7 272.32,234.96 273.65,234.97 274.98,234.43 276.31,234.48 277.64,234.37 278.97,234.65 280.3,234.36 281.63,234.66 282.96,234.79 284.29,234.53 285.62,234.81 286.95,234.75 288.28,234.36 289.61,234.73 290.94,234.52 292.27,234.63 293.6,234.54 294.94,234.82 296.27,234.65 297.6,234.45 298.93,234.72 300.26,234.89 301.59,234.55 302.92,234.49 304.25,234.61 305.58,234.99 306.91,235.02 308.24,234.81 309.57,234.97 310.9,234.93 312.23,234.6 313.56,234.4 314.89,234.8 316.22,234.73 317.56,234.59 318.89,234.5 320.22,234.62 321.55,234.67 322.88,234.53 324.21,234.54 325.54,234.66 326.87,234.94 328.2,234.75 329.53,234.54 330.86,234.53 332.19,234.66 333.52,234.48 334.85,234.48 336.18,234.7 337.51,234.4 338.84,234.68 340.17,234.59 341.51,234.83 342.84,234.86 344.17,234.82 345.5,234.82 346.83,234.6 348.16,234.81 349.49,234.58 350.82,234.74 352.15,234.57 353.48,234.65 354.81,234.38 356.14,234.51 357.47,235.02 358.8,234.5 360.13,234.82 361.46,234.79 362.79,234.85 364.13,234.67 365.46,234.76 366.79,234.39 368.12,234.39 369.45,234.48 370.78,234.45 372.11,234.41 373.44,234.43 374.77,234.73 376.1,234.47 377.43,235.01 378.76,234.82 380.09,234.72 381.42,234.83 382.75,234.52 384.08,234.99 385.41,234.93" fill="none" stroke="#ff0000" stroke-width="1.15" stroke-linejoin="round" />
<path d="M400,186.3 H252.4 V305.3 H400" fill="none" stroke="#000" stroke-width="1.3" stroke-linecap="square"/>
<line x1="400" y1="186.3" x2="400" y2="305.3" stroke="#000" stroke-width="1.3" stroke-linecap="square"/>
<path d="M252.41,305.3 v2.2 M270.87,305.3 v2.2 M289.33,305.3 v2.2 M307.79,305.3 v2.2 M326.25,305.3 v2.2 M344.71,305.3 v2.2 M363.17,305.3 v2.2 M381.63,305.3 v2.2 M400.09,305.3 v2.2" stroke="#000" stroke-width="1"/>
<path d="M252.41,186.3 v-2.2 M270.87,186.3 v-2.2 M289.33,186.3 v-2.2 M307.79,186.3 v-2.2 M326.25,186.3 v-2.2 M344.71,186.3 v-2.2 M363.17,186.3 v-2.2 M381.63,186.3 v-2.2 M400.09,186.3 v-2.2" stroke="#000" stroke-width="1"/>
<path d="M252.4,304.52 h-2.3 M252.4,294.7 h-2.3 M252.4,284.88 h-2.3 M252.4,275.05 h-2.3 M252.4,265.23 h-2.3 M252.4,255.4 h-2.3 M252.4,245.58 h-2.3 M252.4,235.75 h-2.3 M252.4,225.93 h-2.3 M252.4,216.1 h-2.3 M252.4,206.28 h-2.3 M252.4,196.45 h-2.3 M252.4,186.62 h-2.3" stroke="#000" stroke-width="1"/>
<path d="M400,304.52 h2.3 M400,294.7 h2.3 M400,284.88 h2.3 M400,275.05 h2.3 M400,265.23 h2.3 M400,255.4 h2.3 M400,245.58 h2.3 M400,235.75 h2.3 M400,225.93 h2.3 M400,216.1 h2.3 M400,206.28 h2.3 M400,196.45 h2.3 M400,186.62 h2.3" stroke="#000" stroke-width="1"/>
<text x="252.41" y="315.7" font-size="8.2" text-anchor="middle" fill="#1a1a1a" >-0.4</text>
<text x="289.33" y="315.7" font-size="8.2" text-anchor="middle" fill="#1a1a1a" >-0.2</text>
<text x="326.25" y="315.7" font-size="8.2" text-anchor="middle" fill="#1a1a1a" >0.0</text>
<text x="363.17" y="315.7" font-size="8.2" text-anchor="middle" fill="#1a1a1a" >0.2</text>
<text x="400.09" y="315.7" font-size="8.2" text-anchor="middle" fill="#1a1a1a" >0.4</text>
<text x="248.2" y="297.6" font-size="8.2" text-anchor="end" fill="#1a1a1a" >-1.0</text>
<text x="248.2" y="277.95" font-size="8.2" text-anchor="end" fill="#1a1a1a" >-0.5</text>
<text x="248.2" y="258.3" font-size="8.2" text-anchor="end" fill="#1a1a1a" >0.0</text>
<text x="248.2" y="238.65" font-size="8.2" text-anchor="end" fill="#1a1a1a" >0.5</text>
<text x="248.2" y="219" font-size="8.2" text-anchor="end" fill="#1a1a1a" >1.0</text>
<text x="248.2" y="199.35" font-size="8.2" text-anchor="end" fill="#1a1a1a" >1.5</text>
<text x="254.9" y="196.8" font-size="10.1" text-anchor="start" fill="#111" >f = 10 kHz</text>
<line x1="350.4" y1="192.8" x2="370.3" y2="192.8" stroke="#444" stroke-width="1.3" />
<line x1="350.4" y1="203.2" x2="370.3" y2="203.2" stroke="#ff0000" stroke-width="1.1" />
<text x="373.3" y="195.9" font-size="8.4" text-anchor="start" fill="#222" >input</text>
<text x="373.3" y="206.3" font-size="8.4" text-anchor="start" fill="#222" >output</text>
<text x="326.2" y="329.8" font-size="10.2" text-anchor="middle" fill="#1a1a1a" >Time (ms)</text>
<text x="0" y="0" font-size="10.2" text-anchor="middle" fill="#1a1a1a" transform="translate(228,242.4) rotate(-90)">Voltage (V)</text>
<polyline points="460.4,199.2 484.7,199.3 509,202 516.6,204.6 526.3,213.2 534.1,220.5 541.6,232.5 551,252 558.4,269.2 565.6,283 575.4,290.4 582.8,291.9" fill="none" stroke="#111" stroke-width="1.1" stroke-linejoin="round" />
<rect x="459" y="197.8" width="2.8" height="2.8" fill="#111"/>
<rect x="483.3" y="197.9" width="2.8" height="2.8" fill="#111"/>
<rect x="507.6" y="200.6" width="2.8" height="2.8" fill="#111"/>
<rect x="515.2" y="203.2" width="2.8" height="2.8" fill="#111"/>
<rect x="524.9" y="211.8" width="2.8" height="2.8" fill="#111"/>
<rect x="532.7" y="219.1" width="2.8" height="2.8" fill="#111"/>
<rect x="540.2" y="231.1" width="2.8" height="2.8" fill="#111"/>
<rect x="549.6" y="250.6" width="2.8" height="2.8" fill="#111"/>
<rect x="557" y="267.8" width="2.8" height="2.8" fill="#111"/>
<rect x="564.2" y="281.6" width="2.8" height="2.8" fill="#111"/>
<rect x="574" y="289" width="2.8" height="2.8" fill="#111"/>
<rect x="581.4" y="290.5" width="2.8" height="2.8" fill="#111"/>
<path d="M594.4,185.4 H447.2 V304.4 H594.4" fill="none" stroke="#000" stroke-width="1.3" stroke-linecap="square"/>
<line x1="594.4" y1="185.4" x2="594.4" y2="304.4" stroke="#000" stroke-width="1.3" stroke-linecap="square"/>
<path d="M460.4,304.4 v2.3 M484.75,304.4 v2.3 M509.1,304.4 v2.3 M533.45,304.4 v2.3 M557.8,304.4 v2.3 M582.15,304.4 v2.3" stroke="#000" stroke-width="1"/>
<path d="M460.4,185.4 v-2.3 M484.75,185.4 v-2.3 M509.1,185.4 v-2.3 M533.45,185.4 v-2.3 M557.8,185.4 v-2.3 M582.15,185.4 v-2.3" stroke="#000" stroke-width="1"/>
<path d="M447.67,304.4 v1.5 M450.71,304.4 v1.5 M453.07,304.4 v1.5 M455,304.4 v1.5 M456.63,304.4 v1.5 M458.04,304.4 v1.5 M459.29,304.4 v1.5 M467.73,304.4 v1.5 M472.02,304.4 v1.5 M475.06,304.4 v1.5 M477.42,304.4 v1.5 M479.35,304.4 v1.5 M480.98,304.4 v1.5 M482.39,304.4 v1.5 M483.64,304.4 v1.5 M492.08,304.4 v1.5 M496.37,304.4 v1.5 M499.41,304.4 v1.5 M501.77,304.4 v1.5 M503.7,304.4 v1.5 M505.33,304.4 v1.5 M506.74,304.4 v1.5 M507.99,304.4 v1.5 M516.43,304.4 v1.5 M520.72,304.4 v1.5 M523.76,304.4 v1.5 M526.12,304.4 v1.5 M528.05,304.4 v1.5 M529.68,304.4 v1.5 M531.09,304.4 v1.5 M532.34,304.4 v1.5 M540.78,304.4 v1.5 M545.07,304.4 v1.5 M548.11,304.4 v1.5 M550.47,304.4 v1.5 M552.4,304.4 v1.5 M554.03,304.4 v1.5 M555.44,304.4 v1.5 M556.69,304.4 v1.5 M565.13,304.4 v1.5 M569.42,304.4 v1.5 M572.46,304.4 v1.5 M574.82,304.4 v1.5 M576.75,304.4 v1.5 M578.38,304.4 v1.5 M579.79,304.4 v1.5 M581.04,304.4 v1.5 M589.48,304.4 v1.5 M593.77,304.4 v1.5" stroke="#000" stroke-width="0.8"/>
<path d="M447.67,185.4 v-1.5 M450.71,185.4 v-1.5 M453.07,185.4 v-1.5 M455,185.4 v-1.5 M456.63,185.4 v-1.5 M458.04,185.4 v-1.5 M459.29,185.4 v-1.5 M467.73,185.4 v-1.5 M472.02,185.4 v-1.5 M475.06,185.4 v-1.5 M477.42,185.4 v-1.5 M479.35,185.4 v-1.5 M480.98,185.4 v-1.5 M482.39,185.4 v-1.5 M483.64,185.4 v-1.5 M492.08,185.4 v-1.5 M496.37,185.4 v-1.5 M499.41,185.4 v-1.5 M501.77,185.4 v-1.5 M503.7,185.4 v-1.5 M505.33,185.4 v-1.5 M506.74,185.4 v-1.5 M507.99,185.4 v-1.5 M516.43,185.4 v-1.5 M520.72,185.4 v-1.5 M523.76,185.4 v-1.5 M526.12,185.4 v-1.5 M528.05,185.4 v-1.5 M529.68,185.4 v-1.5 M531.09,185.4 v-1.5 M532.34,185.4 v-1.5 M540.78,185.4 v-1.5 M545.07,185.4 v-1.5 M548.11,185.4 v-1.5 M550.47,185.4 v-1.5 M552.4,185.4 v-1.5 M554.03,185.4 v-1.5 M555.44,185.4 v-1.5 M556.69,185.4 v-1.5 M565.13,185.4 v-1.5 M569.42,185.4 v-1.5 M572.46,185.4 v-1.5 M574.82,185.4 v-1.5 M576.75,185.4 v-1.5 M578.38,185.4 v-1.5 M579.79,185.4 v-1.5 M581.04,185.4 v-1.5 M589.48,185.4 v-1.5 M593.77,185.4 v-1.5" stroke="#000" stroke-width="0.8"/>
<path d="M447.2,297.4 h-2.3 M447.2,283.4 h-2.3 M447.2,269.4 h-2.3 M447.2,255.4 h-2.3 M447.2,241.4 h-2.3 M447.2,227.4 h-2.3 M447.2,213.4 h-2.3 M447.2,199.4 h-2.3 M447.2,185.4 h-2.3" stroke="#000" stroke-width="1"/>
<path d="M594.4,297.4 h2.3 M594.4,283.4 h2.3 M594.4,269.4 h2.3 M594.4,255.4 h2.3 M594.4,241.4 h2.3 M594.4,227.4 h2.3 M594.4,213.4 h2.3 M594.4,199.4 h2.3 M594.4,185.4 h2.3" stroke="#000" stroke-width="1"/>
<path d="M447.2,304.4 h-1.5 M447.2,290.4 h-1.5 M447.2,276.4 h-1.5 M447.2,262.4 h-1.5 M447.2,248.4 h-1.5 M447.2,234.4 h-1.5 M447.2,220.4 h-1.5 M447.2,206.4 h-1.5 M447.2,192.4 h-1.5" stroke="#000" stroke-width="1"/>
<path d="M594.4,304.4 h1.5 M594.4,290.4 h1.5 M594.4,276.4 h1.5 M594.4,262.4 h1.5 M594.4,248.4 h1.5 M594.4,234.4 h1.5 M594.4,220.4 h1.5 M594.4,206.4 h1.5 M594.4,192.4 h1.5" stroke="#000" stroke-width="1"/>
<text x="444.3" y="300.3" font-size="8.2" text-anchor="end" fill="#1a1a1a" >0.0</text>
<text x="444.3" y="286.3" font-size="8.2" text-anchor="end" fill="#1a1a1a" >0.1</text>
<text x="444.3" y="272.3" font-size="8.2" text-anchor="end" fill="#1a1a1a" >0.2</text>
<text x="444.3" y="258.3" font-size="8.2" text-anchor="end" fill="#1a1a1a" >0.3</text>
<text x="444.3" y="244.3" font-size="8.2" text-anchor="end" fill="#1a1a1a" >0.4</text>
<text x="444.3" y="230.3" font-size="8.2" text-anchor="end" fill="#1a1a1a" >0.5</text>
<text x="444.3" y="216.3" font-size="8.2" text-anchor="end" fill="#1a1a1a" >0.6</text>
<text x="444.3" y="202.3" font-size="8.2" text-anchor="end" fill="#1a1a1a" >0.7</text>
<text x="444.3" y="188.3" font-size="8.2" text-anchor="end" fill="#1a1a1a" >0.8</text>
<text x="460.1" y="317.3" font-size="10.1" text-anchor="middle" fill="#1a1a1a" >10<tspan font-size="5.5" dy="-4.2">1</tspan></text>
<text x="484.45" y="317.3" font-size="10.1" text-anchor="middle" fill="#1a1a1a" >10<tspan font-size="5.5" dy="-4.2">2</tspan></text>
<text x="508.8" y="317.3" font-size="10.1" text-anchor="middle" fill="#1a1a1a" >10<tspan font-size="5.5" dy="-4.2">3</tspan></text>
<text x="533.15" y="317.3" font-size="10.1" text-anchor="middle" fill="#1a1a1a" >10<tspan font-size="5.5" dy="-4.2">4</tspan></text>
<text x="557.5" y="317.3" font-size="10.1" text-anchor="middle" fill="#1a1a1a" >10<tspan font-size="5.5" dy="-4.2">5</tspan></text>
<text x="581.85" y="317.3" font-size="10.1" text-anchor="middle" fill="#1a1a1a" >10<tspan font-size="5.5" dy="-4.2">6</tspan></text>
<text x="521" y="328.6" font-size="10.2" text-anchor="middle" fill="#1a1a1a" >Frequency (Hz)</text>
<text x="0" y="0" font-size="10.2" text-anchor="middle" fill="#1a1a1a" transform="translate(426.8,245.3) rotate(-90)">Output voltage (V)</text>
<path d="M457.1,258.2 H539.7 M457.1,258.2 V265.7 M457.1,278.3 V291.4 M457.1,286 H539.7 M505.2,258.2 V271.3 M505.2,274.3 V286 M539.7,258.2 V265.3 M539.7,279.3 V286" stroke="#2a2a2a" stroke-width="1" fill="none"/>
<path d="M485,255.2 L491.4,258.2 L485,261.4 Z" fill="#111"/><line x1="491.6" y1="255" x2="491.6" y2="261.5" stroke="#111" stroke-width="0.9"/>
<circle cx="457.1" cy="272" r="6.3" fill="none" stroke="#2a2a2a" stroke-width="0.9"/>
<path d="M452.9,272 q1.4,-2.6 2.8,0 t2.8,0 t2.8,0" fill="none" stroke="#2a2a2a" stroke-width="0.8" transform="rotate(55 457.1 272)"/>
<path d="M498,271.3 H512 M498,274.3 H512" stroke="#777" stroke-width="1.1"/>
<circle cx="505.2" cy="258.2" r="0.9" fill="#333"/><circle cx="505.2" cy="286" r="0.9" fill="#333"/><circle cx="457.1" cy="286" r="0.9" fill="#333"/>
<path d="M451.5,291.4 H462.7 L457.1,296.8 Z" fill="none" stroke="#2a2a2a" stroke-width="0.9"/>
<circle cx="539.7" cy="272.3" r="7" fill="none" stroke="#2a2a2a" stroke-width="0.9"/>
<text x="539.7" y="272" font-size="6" text-anchor="middle" fill="#333" >V</text>
<path d="M534,275.5 q5.7,-3 11.4,0 M535.5,277.5 l3,-2.5" fill="none" stroke="#2a2a2a" stroke-width="0.6"/>
<text x="465.8" y="276.4" font-size="10.5" text-anchor="start" fill="#2a3040" >V<tspan font-size="7" dy="2.6" fill="#7888a0">in</tspan></text>
<text x="514.8" y="276.5" font-size="10.5" text-anchor="start" fill="#2a3040" >V<tspan font-size="7" dy="2.8" fill="#687080">out</tspan></text>
</svg></body></html>
